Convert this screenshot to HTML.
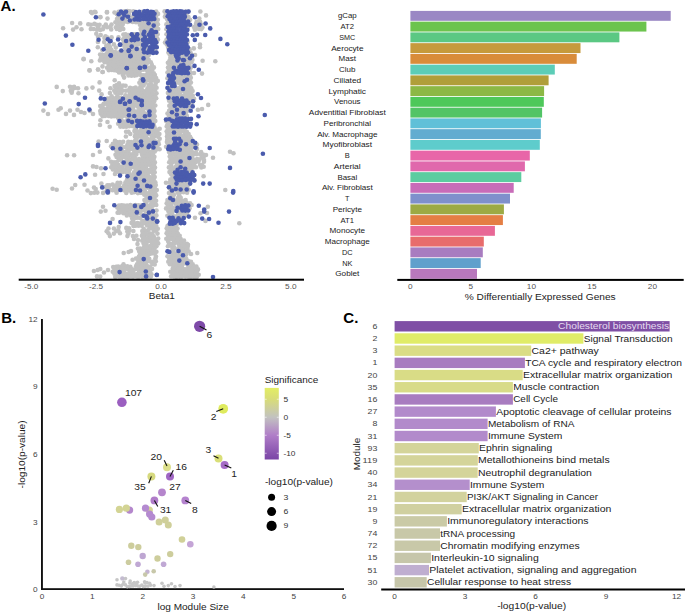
<!DOCTYPE html>
<html><head><meta charset="utf-8"><style>
html,body{margin:0;padding:0;background:#fff;}
body{width:685px;height:612px;overflow:hidden;}
svg{display:block;font-family:"Liberation Sans",sans-serif}

</style></head><body>
<svg width="685" height="612" viewBox="0 0 685 612">
<text x="0.6" y="10.7" font-size="15" font-weight="bold" fill="#000">A.</text>
<g class="s"><g fill="#c1c1c1"><circle cx="118.6" cy="11.8" r="2.3"/><circle cx="124.8" cy="11.4" r="2.3"/><circle cx="127.5" cy="11.1" r="2.3"/><circle cx="129.8" cy="11.2" r="2.3"/><circle cx="133.4" cy="11.2" r="2.3"/><circle cx="141.6" cy="12.0" r="2.3"/><circle cx="156.2" cy="11.5" r="2.3"/><circle cx="164.6" cy="11.4" r="2.3"/><circle cx="167.4" cy="11.3" r="2.3"/><circle cx="176.6" cy="11.2" r="2.3"/><circle cx="185.7" cy="11.8" r="2.3"/><circle cx="188.5" cy="11.6" r="2.3"/><circle cx="116.8" cy="14.1" r="2.3"/><circle cx="119.9" cy="13.8" r="2.3"/><circle cx="123.2" cy="13.7" r="2.3"/><circle cx="125.8" cy="13.7" r="2.3"/><circle cx="128.9" cy="14.2" r="2.3"/><circle cx="134.1" cy="13.9" r="2.3"/><circle cx="137.0" cy="14.1" r="2.3"/><circle cx="140.0" cy="14.6" r="2.3"/><circle cx="146.3" cy="14.5" r="2.3"/><circle cx="151.7" cy="13.8" r="2.3"/><circle cx="158.0" cy="13.9" r="2.3"/><circle cx="165.9" cy="14.4" r="2.3"/><circle cx="178.2" cy="14.1" r="2.3"/><circle cx="180.5" cy="14.4" r="2.3"/><circle cx="184.2" cy="14.5" r="2.3"/><circle cx="186.5" cy="14.1" r="2.3"/><circle cx="118.4" cy="16.6" r="2.3"/><circle cx="121.0" cy="16.3" r="2.3"/><circle cx="124.2" cy="17.1" r="2.3"/><circle cx="127.0" cy="16.7" r="2.3"/><circle cx="130.1" cy="17.2" r="2.3"/><circle cx="133.4" cy="16.8" r="2.3"/><circle cx="138.8" cy="17.0" r="2.3"/><circle cx="142.3" cy="16.3" r="2.3"/><circle cx="147.7" cy="16.6" r="2.3"/><circle cx="155.9" cy="16.4" r="2.3"/><circle cx="164.9" cy="16.7" r="2.3"/><circle cx="167.7" cy="16.3" r="2.3"/><circle cx="170.8" cy="16.8" r="2.3"/><circle cx="182.8" cy="17.1" r="2.3"/><circle cx="188.4" cy="17.0" r="2.3"/><circle cx="117.0" cy="19.1" r="2.3"/><circle cx="120.4" cy="18.8" r="2.3"/><circle cx="123.2" cy="19.0" r="2.3"/><circle cx="125.3" cy="19.3" r="2.3"/><circle cx="131.4" cy="18.8" r="2.3"/><circle cx="143.5" cy="18.9" r="2.3"/><circle cx="157.8" cy="19.7" r="2.3"/><circle cx="166.9" cy="18.9" r="2.3"/><circle cx="169.5" cy="19.0" r="2.3"/><circle cx="172.0" cy="19.3" r="2.3"/><circle cx="175.0" cy="19.4" r="2.3"/><circle cx="186.8" cy="19.1" r="2.3"/><circle cx="190.1" cy="19.7" r="2.3"/><circle cx="115.4" cy="22.3" r="2.3"/><circle cx="118.4" cy="22.1" r="2.3"/><circle cx="121.1" cy="22.0" r="2.3"/><circle cx="124.8" cy="21.6" r="2.3"/><circle cx="127.8" cy="21.9" r="2.3"/><circle cx="130.0" cy="21.3" r="2.3"/><circle cx="132.7" cy="21.9" r="2.3"/><circle cx="136.0" cy="22.2" r="2.3"/><circle cx="138.6" cy="22.0" r="2.3"/><circle cx="141.3" cy="21.7" r="2.3"/><circle cx="144.5" cy="21.5" r="2.3"/><circle cx="147.7" cy="21.5" r="2.3"/><circle cx="150.5" cy="21.4" r="2.3"/><circle cx="153.1" cy="21.4" r="2.3"/><circle cx="156.5" cy="22.2" r="2.3"/><circle cx="168.1" cy="21.7" r="2.3"/><circle cx="173.6" cy="21.5" r="2.3"/><circle cx="188.1" cy="21.5" r="2.3"/><circle cx="196.6" cy="21.9" r="2.3"/><circle cx="200.1" cy="21.8" r="2.3"/><circle cx="88.3" cy="24.2" r="2.3"/><circle cx="90.9" cy="24.7" r="2.3"/><circle cx="94.4" cy="23.9" r="2.3"/><circle cx="96.6" cy="24.8" r="2.3"/><circle cx="99.6" cy="24.7" r="2.3"/><circle cx="105.8" cy="24.5" r="2.3"/><circle cx="111.5" cy="24.6" r="2.3"/><circle cx="117.2" cy="24.0" r="2.3"/><circle cx="120.5" cy="24.1" r="2.3"/><circle cx="122.7" cy="24.6" r="2.3"/><circle cx="139.9" cy="24.8" r="2.3"/><circle cx="143.1" cy="24.8" r="2.3"/><circle cx="146.4" cy="24.3" r="2.3"/><circle cx="149.2" cy="24.0" r="2.3"/><circle cx="151.8" cy="23.9" r="2.3"/><circle cx="155.2" cy="24.5" r="2.3"/><circle cx="157.9" cy="24.3" r="2.3"/><circle cx="166.4" cy="24.4" r="2.3"/><circle cx="169.3" cy="24.1" r="2.3"/><circle cx="175.3" cy="24.3" r="2.3"/><circle cx="178.0" cy="24.6" r="2.3"/><circle cx="186.7" cy="24.8" r="2.3"/><circle cx="190.0" cy="24.8" r="2.3"/><circle cx="200.9" cy="24.5" r="2.3"/><circle cx="98.1" cy="27.3" r="2.3"/><circle cx="103.8" cy="26.8" r="2.3"/><circle cx="107.1" cy="27.2" r="2.3"/><circle cx="110.3" cy="26.8" r="2.3"/><circle cx="115.9" cy="27.2" r="2.3"/><circle cx="118.4" cy="26.7" r="2.3"/><circle cx="121.6" cy="27.2" r="2.3"/><circle cx="141.9" cy="27.0" r="2.3"/><circle cx="144.9" cy="27.0" r="2.3"/><circle cx="147.3" cy="27.1" r="2.3"/><circle cx="150.8" cy="26.5" r="2.3"/><circle cx="152.9" cy="27.2" r="2.3"/><circle cx="156.5" cy="26.8" r="2.3"/><circle cx="182.0" cy="27.4" r="2.3"/><circle cx="184.8" cy="27.1" r="2.3"/><circle cx="187.7" cy="27.2" r="2.3"/><circle cx="196.9" cy="27.3" r="2.3"/><circle cx="200.3" cy="27.1" r="2.3"/><circle cx="90.8" cy="29.0" r="2.3"/><circle cx="93.6" cy="29.0" r="2.3"/><circle cx="96.9" cy="29.8" r="2.3"/><circle cx="100.2" cy="29.9" r="2.3"/><circle cx="102.8" cy="29.3" r="2.3"/><circle cx="111.2" cy="29.4" r="2.3"/><circle cx="116.8" cy="29.0" r="2.3"/><circle cx="119.9" cy="29.9" r="2.3"/><circle cx="123.3" cy="29.0" r="2.3"/><circle cx="140.6" cy="29.1" r="2.3"/><circle cx="143.0" cy="29.1" r="2.3"/><circle cx="145.8" cy="29.2" r="2.3"/><circle cx="149.2" cy="29.0" r="2.3"/><circle cx="151.6" cy="29.0" r="2.3"/><circle cx="154.5" cy="29.9" r="2.3"/><circle cx="158.2" cy="29.1" r="2.3"/><circle cx="166.4" cy="29.3" r="2.3"/><circle cx="169.3" cy="29.6" r="2.3"/><circle cx="172.5" cy="29.5" r="2.3"/><circle cx="177.7" cy="29.4" r="2.3"/><circle cx="181.5" cy="29.0" r="2.3"/><circle cx="187.3" cy="29.9" r="2.3"/><circle cx="194.9" cy="29.8" r="2.3"/><circle cx="201.3" cy="29.1" r="2.3"/><circle cx="141.8" cy="31.6" r="2.3"/><circle cx="144.3" cy="31.8" r="2.3"/><circle cx="147.1" cy="32.0" r="2.3"/><circle cx="153.5" cy="32.1" r="2.3"/><circle cx="156.0" cy="32.0" r="2.3"/><circle cx="168.4" cy="31.8" r="2.3"/><circle cx="123.4" cy="34.5" r="2.3"/><circle cx="125.6" cy="34.2" r="2.3"/><circle cx="128.4" cy="35.0" r="2.3"/><circle cx="134.1" cy="34.2" r="2.3"/><circle cx="137.2" cy="34.2" r="2.3"/><circle cx="140.5" cy="34.4" r="2.3"/><circle cx="143.5" cy="34.1" r="2.3"/><circle cx="146.1" cy="34.9" r="2.3"/><circle cx="148.9" cy="34.8" r="2.3"/><circle cx="152.4" cy="34.6" r="2.3"/><circle cx="155.1" cy="34.3" r="2.3"/><circle cx="157.6" cy="34.3" r="2.3"/><circle cx="166.5" cy="34.3" r="2.3"/><circle cx="174.7" cy="34.6" r="2.3"/><circle cx="98.0" cy="36.8" r="2.3"/><circle cx="107.4" cy="37.5" r="2.3"/><circle cx="118.5" cy="37.4" r="2.3"/><circle cx="124.5" cy="37.4" r="2.3"/><circle cx="127.7" cy="37.5" r="2.3"/><circle cx="130.2" cy="36.8" r="2.3"/><circle cx="136.5" cy="36.7" r="2.3"/><circle cx="139.1" cy="36.6" r="2.3"/><circle cx="142.1" cy="37.0" r="2.3"/><circle cx="147.8" cy="37.4" r="2.3"/><circle cx="150.3" cy="37.0" r="2.3"/><circle cx="156.7" cy="37.6" r="2.3"/><circle cx="176.6" cy="37.2" r="2.3"/><circle cx="179.9" cy="37.1" r="2.3"/><circle cx="123.0" cy="39.5" r="2.3"/><circle cx="125.4" cy="39.5" r="2.3"/><circle cx="129.0" cy="39.7" r="2.3"/><circle cx="131.5" cy="40.1" r="2.3"/><circle cx="137.9" cy="39.2" r="2.3"/><circle cx="140.1" cy="39.2" r="2.3"/><circle cx="143.0" cy="39.9" r="2.3"/><circle cx="157.9" cy="39.6" r="2.3"/><circle cx="166.6" cy="39.5" r="2.3"/><circle cx="97.9" cy="42.0" r="2.3"/><circle cx="104.2" cy="42.1" r="2.3"/><circle cx="123.9" cy="42.3" r="2.3"/><circle cx="127.0" cy="42.3" r="2.3"/><circle cx="129.9" cy="41.9" r="2.3"/><circle cx="133.5" cy="42.5" r="2.3"/><circle cx="135.5" cy="42.4" r="2.3"/><circle cx="139.1" cy="42.2" r="2.3"/><circle cx="142.3" cy="41.7" r="2.3"/><circle cx="145.1" cy="42.2" r="2.3"/><circle cx="156.3" cy="42.4" r="2.3"/><circle cx="165.0" cy="42.5" r="2.3"/><circle cx="174.0" cy="41.8" r="2.3"/><circle cx="176.4" cy="42.5" r="2.3"/><circle cx="187.7" cy="41.9" r="2.3"/><circle cx="108.6" cy="44.5" r="2.3"/><circle cx="113.9" cy="44.4" r="2.3"/><circle cx="123.4" cy="44.9" r="2.3"/><circle cx="125.4" cy="44.9" r="2.3"/><circle cx="129.1" cy="44.5" r="2.3"/><circle cx="131.7" cy="44.6" r="2.3"/><circle cx="134.2" cy="45.2" r="2.3"/><circle cx="137.8" cy="44.4" r="2.3"/><circle cx="140.9" cy="44.6" r="2.3"/><circle cx="143.1" cy="44.9" r="2.3"/><circle cx="146.1" cy="45.0" r="2.3"/><circle cx="166.8" cy="44.5" r="2.3"/><circle cx="172.4" cy="44.3" r="2.3"/><circle cx="175.4" cy="44.4" r="2.3"/><circle cx="97.8" cy="47.3" r="2.3"/><circle cx="110.0" cy="47.1" r="2.3"/><circle cx="115.9" cy="47.6" r="2.3"/><circle cx="124.9" cy="47.2" r="2.3"/><circle cx="127.7" cy="47.4" r="2.3"/><circle cx="133.1" cy="47.8" r="2.3"/><circle cx="136.4" cy="47.0" r="2.3"/><circle cx="141.8" cy="47.6" r="2.3"/><circle cx="147.5" cy="47.7" r="2.3"/><circle cx="156.7" cy="47.3" r="2.3"/><circle cx="168.2" cy="47.5" r="2.3"/><circle cx="170.6" cy="46.9" r="2.3"/><circle cx="182.3" cy="47.8" r="2.3"/><circle cx="102.3" cy="50.1" r="2.3"/><circle cx="107.9" cy="50.1" r="2.3"/><circle cx="111.4" cy="49.8" r="2.3"/><circle cx="125.7" cy="50.3" r="2.3"/><circle cx="128.7" cy="49.5" r="2.3"/><circle cx="131.9" cy="50.1" r="2.3"/><circle cx="134.4" cy="49.5" r="2.3"/><circle cx="137.2" cy="49.5" r="2.3"/><circle cx="140.4" cy="49.8" r="2.3"/><circle cx="146.7" cy="50.1" r="2.3"/><circle cx="149.3" cy="50.1" r="2.3"/><circle cx="154.5" cy="50.0" r="2.3"/><circle cx="172.6" cy="49.8" r="2.3"/><circle cx="175.2" cy="49.9" r="2.3"/><circle cx="181.2" cy="49.7" r="2.3"/><circle cx="183.3" cy="49.6" r="2.3"/><circle cx="189.7" cy="49.4" r="2.3"/><circle cx="107.2" cy="52.8" r="2.3"/><circle cx="110.3" cy="52.9" r="2.3"/><circle cx="112.6" cy="52.1" r="2.3"/><circle cx="115.2" cy="52.1" r="2.3"/><circle cx="119.1" cy="52.2" r="2.3"/><circle cx="121.8" cy="52.8" r="2.3"/><circle cx="124.4" cy="52.0" r="2.3"/><circle cx="127.1" cy="52.5" r="2.3"/><circle cx="130.2" cy="52.9" r="2.3"/><circle cx="133.1" cy="52.5" r="2.3"/><circle cx="136.5" cy="52.3" r="2.3"/><circle cx="139.1" cy="52.9" r="2.3"/><circle cx="141.5" cy="52.2" r="2.3"/><circle cx="144.2" cy="52.2" r="2.3"/><circle cx="150.2" cy="52.2" r="2.3"/><circle cx="156.4" cy="52.6" r="2.3"/><circle cx="168.4" cy="52.6" r="2.3"/><circle cx="176.4" cy="52.7" r="2.3"/><circle cx="179.9" cy="52.7" r="2.3"/><circle cx="188.1" cy="52.6" r="2.3"/><circle cx="190.6" cy="52.8" r="2.3"/><circle cx="100.1" cy="54.5" r="2.3"/><circle cx="102.4" cy="54.9" r="2.3"/><circle cx="105.8" cy="54.6" r="2.3"/><circle cx="108.0" cy="55.4" r="2.3"/><circle cx="111.0" cy="55.0" r="2.3"/><circle cx="114.7" cy="54.5" r="2.3"/><circle cx="116.8" cy="55.0" r="2.3"/><circle cx="119.9" cy="55.3" r="2.3"/><circle cx="123.3" cy="55.4" r="2.3"/><circle cx="126.3" cy="54.9" r="2.3"/><circle cx="129.2" cy="54.6" r="2.3"/><circle cx="135.0" cy="54.9" r="2.3"/><circle cx="137.8" cy="55.3" r="2.3"/><circle cx="140.4" cy="54.6" r="2.3"/><circle cx="143.4" cy="55.0" r="2.3"/><circle cx="146.6" cy="55.4" r="2.3"/><circle cx="148.6" cy="55.3" r="2.3"/><circle cx="169.7" cy="54.5" r="2.3"/><circle cx="172.4" cy="55.2" r="2.3"/><circle cx="175.7" cy="55.2" r="2.3"/><circle cx="180.7" cy="55.2" r="2.3"/><circle cx="184.1" cy="54.6" r="2.3"/><circle cx="189.2" cy="55.0" r="2.3"/><circle cx="192.4" cy="55.2" r="2.3"/><circle cx="101.1" cy="57.5" r="2.3"/><circle cx="104.3" cy="57.2" r="2.3"/><circle cx="107.0" cy="57.7" r="2.3"/><circle cx="109.8" cy="57.4" r="2.3"/><circle cx="113.3" cy="57.6" r="2.3"/><circle cx="115.7" cy="57.6" r="2.3"/><circle cx="118.1" cy="58.0" r="2.3"/><circle cx="121.1" cy="57.5" r="2.3"/><circle cx="124.2" cy="57.1" r="2.3"/><circle cx="127.6" cy="57.4" r="2.3"/><circle cx="132.6" cy="57.3" r="2.3"/><circle cx="135.6" cy="57.1" r="2.3"/><circle cx="138.5" cy="57.5" r="2.3"/><circle cx="141.4" cy="57.2" r="2.3"/><circle cx="144.6" cy="57.3" r="2.3"/><circle cx="147.3" cy="58.0" r="2.3"/><circle cx="170.4" cy="57.8" r="2.3"/><circle cx="173.4" cy="57.5" r="2.3"/><circle cx="179.2" cy="57.4" r="2.3"/><circle cx="182.5" cy="57.0" r="2.3"/><circle cx="185.7" cy="58.0" r="2.3"/><circle cx="188.6" cy="57.3" r="2.3"/><circle cx="190.9" cy="57.4" r="2.3"/><circle cx="99.9" cy="60.4" r="2.3"/><circle cx="102.8" cy="59.8" r="2.3"/><circle cx="105.5" cy="60.1" r="2.3"/><circle cx="108.0" cy="59.6" r="2.3"/><circle cx="111.6" cy="60.3" r="2.3"/><circle cx="114.0" cy="60.1" r="2.3"/><circle cx="117.3" cy="60.5" r="2.3"/><circle cx="120.1" cy="60.3" r="2.3"/><circle cx="123.2" cy="60.3" r="2.3"/><circle cx="126.2" cy="60.5" r="2.3"/><circle cx="129.2" cy="60.0" r="2.3"/><circle cx="131.2" cy="60.3" r="2.3"/><circle cx="134.2" cy="60.0" r="2.3"/><circle cx="138.0" cy="59.9" r="2.3"/><circle cx="140.1" cy="59.7" r="2.3"/><circle cx="143.2" cy="60.2" r="2.3"/><circle cx="145.8" cy="59.8" r="2.3"/><circle cx="148.7" cy="59.9" r="2.3"/><circle cx="169.6" cy="60.5" r="2.3"/><circle cx="172.1" cy="60.0" r="2.3"/><circle cx="175.0" cy="59.7" r="2.3"/><circle cx="181.4" cy="60.0" r="2.3"/><circle cx="183.9" cy="60.2" r="2.3"/><circle cx="186.6" cy="60.4" r="2.3"/><circle cx="189.8" cy="59.9" r="2.3"/><circle cx="192.4" cy="59.7" r="2.3"/><circle cx="104.6" cy="62.2" r="2.3"/><circle cx="107.3" cy="62.2" r="2.3"/><circle cx="110.0" cy="63.0" r="2.3"/><circle cx="112.7" cy="63.0" r="2.3"/><circle cx="116.0" cy="62.2" r="2.3"/><circle cx="118.2" cy="63.0" r="2.3"/><circle cx="121.7" cy="62.4" r="2.3"/><circle cx="124.6" cy="62.2" r="2.3"/><circle cx="127.5" cy="62.3" r="2.3"/><circle cx="130.0" cy="62.5" r="2.3"/><circle cx="133.6" cy="63.1" r="2.3"/><circle cx="136.1" cy="62.9" r="2.3"/><circle cx="138.9" cy="63.0" r="2.3"/><circle cx="142.3" cy="62.6" r="2.3"/><circle cx="145.0" cy="62.2" r="2.3"/><circle cx="147.1" cy="63.1" r="2.3"/><circle cx="150.8" cy="62.2" r="2.3"/><circle cx="167.9" cy="62.8" r="2.3"/><circle cx="170.6" cy="63.0" r="2.3"/><circle cx="174.0" cy="62.2" r="2.3"/><circle cx="176.4" cy="62.3" r="2.3"/><circle cx="179.8" cy="62.4" r="2.3"/><circle cx="182.8" cy="62.7" r="2.3"/><circle cx="185.4" cy="62.6" r="2.3"/><circle cx="187.8" cy="63.0" r="2.3"/><circle cx="191.4" cy="62.3" r="2.3"/><circle cx="108.6" cy="64.8" r="2.3"/><circle cx="110.9" cy="65.0" r="2.3"/><circle cx="114.4" cy="65.1" r="2.3"/><circle cx="117.2" cy="65.6" r="2.3"/><circle cx="119.7" cy="65.0" r="2.3"/><circle cx="123.4" cy="65.4" r="2.3"/><circle cx="125.5" cy="64.7" r="2.3"/><circle cx="129.1" cy="65.3" r="2.3"/><circle cx="131.8" cy="64.7" r="2.3"/><circle cx="134.4" cy="64.8" r="2.3"/><circle cx="137.7" cy="65.2" r="2.3"/><circle cx="140.5" cy="65.1" r="2.3"/><circle cx="142.8" cy="65.6" r="2.3"/><circle cx="145.8" cy="65.0" r="2.3"/><circle cx="151.8" cy="64.9" r="2.3"/><circle cx="169.4" cy="65.1" r="2.3"/><circle cx="172.4" cy="65.1" r="2.3"/><circle cx="175.6" cy="65.5" r="2.3"/><circle cx="178.0" cy="64.8" r="2.3"/><circle cx="186.6" cy="65.3" r="2.3"/><circle cx="189.4" cy="65.6" r="2.3"/><circle cx="107.1" cy="67.7" r="2.3"/><circle cx="109.6" cy="67.5" r="2.3"/><circle cx="112.6" cy="68.1" r="2.3"/><circle cx="116.2" cy="67.4" r="2.3"/><circle cx="118.3" cy="67.8" r="2.3"/><circle cx="121.0" cy="68.0" r="2.3"/><circle cx="124.1" cy="68.0" r="2.3"/><circle cx="127.8" cy="67.3" r="2.3"/><circle cx="129.9" cy="67.8" r="2.3"/><circle cx="133.5" cy="67.7" r="2.3"/><circle cx="136.3" cy="67.3" r="2.3"/><circle cx="141.4" cy="67.7" r="2.3"/><circle cx="144.2" cy="67.3" r="2.3"/><circle cx="147.5" cy="67.6" r="2.3"/><circle cx="150.3" cy="67.9" r="2.3"/><circle cx="153.9" cy="67.4" r="2.3"/><circle cx="168.0" cy="67.5" r="2.3"/><circle cx="171.3" cy="67.6" r="2.3"/><circle cx="176.4" cy="67.6" r="2.3"/><circle cx="188.4" cy="67.9" r="2.3"/><circle cx="190.7" cy="67.8" r="2.3"/><circle cx="108.8" cy="70.2" r="2.3"/><circle cx="111.8" cy="69.9" r="2.3"/><circle cx="114.2" cy="70.3" r="2.3"/><circle cx="116.8" cy="70.6" r="2.3"/><circle cx="119.7" cy="69.9" r="2.3"/><circle cx="122.6" cy="70.2" r="2.3"/><circle cx="125.8" cy="70.3" r="2.3"/><circle cx="128.2" cy="70.7" r="2.3"/><circle cx="131.1" cy="70.5" r="2.3"/><circle cx="134.6" cy="70.0" r="2.3"/><circle cx="137.2" cy="70.5" r="2.3"/><circle cx="140.4" cy="70.4" r="2.3"/><circle cx="143.2" cy="69.8" r="2.3"/><circle cx="146.4" cy="69.9" r="2.3"/><circle cx="149.3" cy="69.9" r="2.3"/><circle cx="152.4" cy="69.8" r="2.3"/><circle cx="168.9" cy="70.0" r="2.3"/><circle cx="172.1" cy="69.9" r="2.3"/><circle cx="178.0" cy="70.7" r="2.3"/><circle cx="189.4" cy="70.3" r="2.3"/><circle cx="119.0" cy="72.5" r="2.3"/><circle cx="121.6" cy="72.5" r="2.3"/><circle cx="124.6" cy="72.4" r="2.3"/><circle cx="126.9" cy="72.8" r="2.3"/><circle cx="130.4" cy="72.3" r="2.3"/><circle cx="133.6" cy="72.7" r="2.3"/><circle cx="135.9" cy="73.0" r="2.3"/><circle cx="139.1" cy="72.7" r="2.3"/><circle cx="147.6" cy="73.1" r="2.3"/><circle cx="150.8" cy="73.0" r="2.3"/><circle cx="153.8" cy="73.2" r="2.3"/><circle cx="167.5" cy="72.5" r="2.3"/><circle cx="170.5" cy="72.6" r="2.3"/><circle cx="177.0" cy="72.6" r="2.3"/><circle cx="181.9" cy="73.3" r="2.3"/><circle cx="184.9" cy="73.0" r="2.3"/><circle cx="190.7" cy="73.1" r="2.3"/><circle cx="123.1" cy="75.2" r="2.3"/><circle cx="128.5" cy="75.4" r="2.3"/><circle cx="131.5" cy="75.7" r="2.3"/><circle cx="134.6" cy="75.6" r="2.3"/><circle cx="136.9" cy="75.1" r="2.3"/><circle cx="140.8" cy="75.0" r="2.3"/><circle cx="143.1" cy="75.4" r="2.3"/><circle cx="145.7" cy="75.2" r="2.3"/><circle cx="148.6" cy="75.2" r="2.3"/><circle cx="152.0" cy="75.0" r="2.3"/><circle cx="154.9" cy="75.0" r="2.3"/><circle cx="175.4" cy="75.5" r="2.3"/><circle cx="178.1" cy="75.1" r="2.3"/><circle cx="181.0" cy="75.0" r="2.3"/><circle cx="184.3" cy="75.1" r="2.3"/><circle cx="186.9" cy="75.0" r="2.3"/><circle cx="189.9" cy="75.2" r="2.3"/><circle cx="124.1" cy="77.6" r="2.3"/><circle cx="142.0" cy="77.9" r="2.3"/><circle cx="144.3" cy="77.7" r="2.3"/><circle cx="148.0" cy="77.4" r="2.3"/><circle cx="150.9" cy="78.2" r="2.3"/><circle cx="153.2" cy="77.6" r="2.3"/><circle cx="156.1" cy="78.1" r="2.3"/><circle cx="167.4" cy="78.3" r="2.3"/><circle cx="170.8" cy="77.8" r="2.3"/><circle cx="174.0" cy="78.0" r="2.3"/><circle cx="176.9" cy="77.6" r="2.3"/><circle cx="179.0" cy="77.7" r="2.3"/><circle cx="182.7" cy="78.0" r="2.3"/><circle cx="185.6" cy="78.1" r="2.3"/><circle cx="188.2" cy="78.0" r="2.3"/><circle cx="190.8" cy="77.7" r="2.3"/><circle cx="114.7" cy="80.2" r="2.3"/><circle cx="140.6" cy="80.0" r="2.3"/><circle cx="143.2" cy="80.4" r="2.3"/><circle cx="146.2" cy="80.8" r="2.3"/><circle cx="149.5" cy="80.4" r="2.3"/><circle cx="151.7" cy="80.4" r="2.3"/><circle cx="154.9" cy="80.8" r="2.3"/><circle cx="157.8" cy="80.9" r="2.3"/><circle cx="175.3" cy="80.7" r="2.3"/><circle cx="177.9" cy="80.8" r="2.3"/><circle cx="181.5" cy="80.1" r="2.3"/><circle cx="183.4" cy="80.7" r="2.3"/><circle cx="186.9" cy="80.7" r="2.3"/><circle cx="189.7" cy="80.9" r="2.3"/><circle cx="119.0" cy="83.2" r="2.3"/><circle cx="139.4" cy="82.8" r="2.3"/><circle cx="141.4" cy="83.2" r="2.3"/><circle cx="145.1" cy="82.8" r="2.3"/><circle cx="150.7" cy="83.2" r="2.3"/><circle cx="155.8" cy="83.1" r="2.3"/><circle cx="168.1" cy="83.0" r="2.3"/><circle cx="176.1" cy="82.8" r="2.3"/><circle cx="179.6" cy="83.3" r="2.3"/><circle cx="182.2" cy="83.4" r="2.3"/><circle cx="184.9" cy="83.2" r="2.3"/><circle cx="188.1" cy="82.7" r="2.3"/><circle cx="190.9" cy="82.6" r="2.3"/><circle cx="114.6" cy="86.0" r="2.3"/><circle cx="116.8" cy="85.1" r="2.3"/><circle cx="119.6" cy="85.6" r="2.3"/><circle cx="123.1" cy="85.6" r="2.3"/><circle cx="125.6" cy="85.8" r="2.3"/><circle cx="140.7" cy="85.9" r="2.3"/><circle cx="143.6" cy="85.5" r="2.3"/><circle cx="148.6" cy="85.1" r="2.3"/><circle cx="151.8" cy="85.6" r="2.3"/><circle cx="155.2" cy="85.4" r="2.3"/><circle cx="169.6" cy="86.0" r="2.3"/><circle cx="172.1" cy="86.0" r="2.3"/><circle cx="181.4" cy="85.3" r="2.3"/><circle cx="186.5" cy="85.4" r="2.3"/><circle cx="189.4" cy="85.8" r="2.3"/><circle cx="72.4" cy="87.6" r="2.3"/><circle cx="74.6" cy="88.0" r="2.3"/><circle cx="78.0" cy="88.2" r="2.3"/><circle cx="86.4" cy="88.4" r="2.3"/><circle cx="92.5" cy="87.6" r="2.3"/><circle cx="110.4" cy="88.3" r="2.3"/><circle cx="115.9" cy="88.2" r="2.3"/><circle cx="118.3" cy="88.5" r="2.3"/><circle cx="121.0" cy="87.9" r="2.3"/><circle cx="130.1" cy="87.7" r="2.3"/><circle cx="133.4" cy="88.4" r="2.3"/><circle cx="135.6" cy="87.6" r="2.3"/><circle cx="139.3" cy="88.4" r="2.3"/><circle cx="141.5" cy="88.5" r="2.3"/><circle cx="147.5" cy="88.4" r="2.3"/><circle cx="150.6" cy="88.6" r="2.3"/><circle cx="153.9" cy="88.6" r="2.3"/><circle cx="156.6" cy="87.8" r="2.3"/><circle cx="167.9" cy="88.3" r="2.3"/><circle cx="171.1" cy="87.9" r="2.3"/><circle cx="174.0" cy="88.3" r="2.3"/><circle cx="176.4" cy="88.4" r="2.3"/><circle cx="179.6" cy="88.0" r="2.3"/><circle cx="181.9" cy="87.7" r="2.3"/><circle cx="184.9" cy="87.6" r="2.3"/><circle cx="188.5" cy="88.2" r="2.3"/><circle cx="191.3" cy="88.4" r="2.3"/><circle cx="70.8" cy="90.8" r="2.3"/><circle cx="114.2" cy="90.5" r="2.3"/><circle cx="117.1" cy="90.7" r="2.3"/><circle cx="119.6" cy="90.6" r="2.3"/><circle cx="122.6" cy="90.6" r="2.3"/><circle cx="125.9" cy="90.7" r="2.3"/><circle cx="128.3" cy="90.2" r="2.3"/><circle cx="132.2" cy="90.4" r="2.3"/><circle cx="134.4" cy="90.9" r="2.3"/><circle cx="137.8" cy="90.2" r="2.3"/><circle cx="140.0" cy="90.5" r="2.3"/><circle cx="143.1" cy="91.1" r="2.3"/><circle cx="146.2" cy="91.1" r="2.3"/><circle cx="149.2" cy="91.0" r="2.3"/><circle cx="151.4" cy="91.1" r="2.3"/><circle cx="154.9" cy="90.2" r="2.3"/><circle cx="171.8" cy="90.4" r="2.3"/><circle cx="174.7" cy="90.6" r="2.3"/><circle cx="178.3" cy="90.9" r="2.3"/><circle cx="181.4" cy="90.5" r="2.3"/><circle cx="183.8" cy="91.0" r="2.3"/><circle cx="186.5" cy="90.3" r="2.3"/><circle cx="189.2" cy="90.3" r="2.3"/><circle cx="192.6" cy="91.0" r="2.3"/><circle cx="71.7" cy="92.8" r="2.3"/><circle cx="78.5" cy="93.3" r="2.3"/><circle cx="109.9" cy="93.1" r="2.3"/><circle cx="115.4" cy="92.8" r="2.3"/><circle cx="118.1" cy="93.6" r="2.3"/><circle cx="121.3" cy="93.1" r="2.3"/><circle cx="129.8" cy="92.9" r="2.3"/><circle cx="132.6" cy="93.3" r="2.3"/><circle cx="136.5" cy="93.3" r="2.3"/><circle cx="138.9" cy="93.2" r="2.3"/><circle cx="141.8" cy="93.6" r="2.3"/><circle cx="144.2" cy="93.1" r="2.3"/><circle cx="147.7" cy="93.2" r="2.3"/><circle cx="151.0" cy="93.5" r="2.3"/><circle cx="152.9" cy="93.4" r="2.3"/><circle cx="156.5" cy="93.2" r="2.3"/><circle cx="167.9" cy="92.9" r="2.3"/><circle cx="171.3" cy="93.6" r="2.3"/><circle cx="174.0" cy="92.8" r="2.3"/><circle cx="176.9" cy="93.0" r="2.3"/><circle cx="179.9" cy="93.4" r="2.3"/><circle cx="185.4" cy="93.6" r="2.3"/><circle cx="188.3" cy="92.9" r="2.3"/><circle cx="190.7" cy="93.2" r="2.3"/><circle cx="111.7" cy="96.2" r="2.3"/><circle cx="117.3" cy="95.9" r="2.3"/><circle cx="125.4" cy="95.3" r="2.3"/><circle cx="128.3" cy="96.2" r="2.3"/><circle cx="131.5" cy="96.1" r="2.3"/><circle cx="134.7" cy="95.7" r="2.3"/><circle cx="138.0" cy="95.5" r="2.3"/><circle cx="140.3" cy="95.4" r="2.3"/><circle cx="143.3" cy="96.0" r="2.3"/><circle cx="145.7" cy="96.2" r="2.3"/><circle cx="149.5" cy="95.3" r="2.3"/><circle cx="151.6" cy="95.5" r="2.3"/><circle cx="155.1" cy="95.7" r="2.3"/><circle cx="169.6" cy="95.3" r="2.3"/><circle cx="172.1" cy="96.2" r="2.3"/><circle cx="175.1" cy="95.6" r="2.3"/><circle cx="177.8" cy="95.9" r="2.3"/><circle cx="181.2" cy="95.5" r="2.3"/><circle cx="183.9" cy="96.0" r="2.3"/><circle cx="186.7" cy="95.3" r="2.3"/><circle cx="189.3" cy="95.4" r="2.3"/><circle cx="192.7" cy="95.6" r="2.3"/><circle cx="107.4" cy="98.6" r="2.3"/><circle cx="109.8" cy="98.6" r="2.3"/><circle cx="112.8" cy="98.7" r="2.3"/><circle cx="115.2" cy="98.3" r="2.3"/><circle cx="119.0" cy="97.9" r="2.3"/><circle cx="121.2" cy="97.9" r="2.3"/><circle cx="124.6" cy="98.2" r="2.3"/><circle cx="127.4" cy="98.7" r="2.3"/><circle cx="130.2" cy="98.3" r="2.3"/><circle cx="133.3" cy="97.9" r="2.3"/><circle cx="136.5" cy="98.6" r="2.3"/><circle cx="138.7" cy="97.9" r="2.3"/><circle cx="141.8" cy="98.7" r="2.3"/><circle cx="144.4" cy="98.5" r="2.3"/><circle cx="147.6" cy="98.7" r="2.3"/><circle cx="150.3" cy="98.3" r="2.3"/><circle cx="153.3" cy="98.1" r="2.3"/><circle cx="156.2" cy="98.2" r="2.3"/><circle cx="170.9" cy="98.8" r="2.3"/><circle cx="173.2" cy="98.0" r="2.3"/><circle cx="177.0" cy="98.3" r="2.3"/><circle cx="179.2" cy="98.3" r="2.3"/><circle cx="182.2" cy="98.7" r="2.3"/><circle cx="185.0" cy="98.4" r="2.3"/><circle cx="188.2" cy="98.4" r="2.3"/><circle cx="191.2" cy="98.1" r="2.3"/><circle cx="194.1" cy="98.7" r="2.3"/><circle cx="105.6" cy="101.0" r="2.3"/><circle cx="108.4" cy="101.3" r="2.3"/><circle cx="111.3" cy="100.4" r="2.3"/><circle cx="114.6" cy="100.4" r="2.3"/><circle cx="117.5" cy="101.2" r="2.3"/><circle cx="120.5" cy="100.7" r="2.3"/><circle cx="123.4" cy="100.9" r="2.3"/><circle cx="125.4" cy="100.4" r="2.3"/><circle cx="128.3" cy="101.2" r="2.3"/><circle cx="132.2" cy="101.0" r="2.3"/><circle cx="134.8" cy="100.7" r="2.3"/><circle cx="137.0" cy="101.2" r="2.3"/><circle cx="140.4" cy="101.0" r="2.3"/><circle cx="142.8" cy="100.7" r="2.3"/><circle cx="146.2" cy="100.5" r="2.3"/><circle cx="149.0" cy="100.4" r="2.3"/><circle cx="151.9" cy="100.5" r="2.3"/><circle cx="154.4" cy="101.1" r="2.3"/><circle cx="169.1" cy="100.8" r="2.3"/><circle cx="172.4" cy="101.2" r="2.3"/><circle cx="183.8" cy="100.9" r="2.3"/><circle cx="189.2" cy="100.7" r="2.3"/><circle cx="193.1" cy="101.3" r="2.3"/><circle cx="103.7" cy="103.8" r="2.3"/><circle cx="106.8" cy="103.9" r="2.3"/><circle cx="109.5" cy="103.3" r="2.3"/><circle cx="112.4" cy="103.7" r="2.3"/><circle cx="116.0" cy="103.2" r="2.3"/><circle cx="118.2" cy="103.6" r="2.3"/><circle cx="121.8" cy="103.1" r="2.3"/><circle cx="124.1" cy="103.8" r="2.3"/><circle cx="126.9" cy="103.6" r="2.3"/><circle cx="130.2" cy="103.2" r="2.3"/><circle cx="133.3" cy="103.6" r="2.3"/><circle cx="135.5" cy="103.5" r="2.3"/><circle cx="138.4" cy="103.7" r="2.3"/><circle cx="141.6" cy="103.4" r="2.3"/><circle cx="145.2" cy="103.5" r="2.3"/><circle cx="147.9" cy="103.4" r="2.3"/><circle cx="150.6" cy="103.3" r="2.3"/><circle cx="153.3" cy="103.1" r="2.3"/><circle cx="170.9" cy="103.6" r="2.3"/><circle cx="173.3" cy="103.5" r="2.3"/><circle cx="179.1" cy="103.9" r="2.3"/><circle cx="182.0" cy="103.6" r="2.3"/><circle cx="185.3" cy="103.7" r="2.3"/><circle cx="188.5" cy="102.9" r="2.3"/><circle cx="191.0" cy="103.6" r="2.3"/><circle cx="100.2" cy="106.1" r="2.3"/><circle cx="102.7" cy="105.6" r="2.3"/><circle cx="108.3" cy="105.6" r="2.3"/><circle cx="110.9" cy="106.1" r="2.3"/><circle cx="113.9" cy="106.1" r="2.3"/><circle cx="116.6" cy="106.2" r="2.3"/><circle cx="120.0" cy="105.9" r="2.3"/><circle cx="122.8" cy="106.0" r="2.3"/><circle cx="126.4" cy="105.8" r="2.3"/><circle cx="129.1" cy="106.2" r="2.3"/><circle cx="131.6" cy="106.3" r="2.3"/><circle cx="134.2" cy="105.5" r="2.3"/><circle cx="137.4" cy="106.4" r="2.3"/><circle cx="140.2" cy="105.9" r="2.3"/><circle cx="143.5" cy="106.0" r="2.3"/><circle cx="146.6" cy="105.5" r="2.3"/><circle cx="149.0" cy="106.4" r="2.3"/><circle cx="151.7" cy="106.2" r="2.3"/><circle cx="155.3" cy="105.5" r="2.3"/><circle cx="169.3" cy="105.7" r="2.3"/><circle cx="172.0" cy="106.2" r="2.3"/><circle cx="178.0" cy="106.4" r="2.3"/><circle cx="190.0" cy="106.1" r="2.3"/><circle cx="101.7" cy="108.4" r="2.3"/><circle cx="103.8" cy="108.7" r="2.3"/><circle cx="107.4" cy="108.4" r="2.3"/><circle cx="109.9" cy="108.4" r="2.3"/><circle cx="113.0" cy="108.6" r="2.3"/><circle cx="115.4" cy="108.9" r="2.3"/><circle cx="118.4" cy="108.6" r="2.3"/><circle cx="122.0" cy="109.0" r="2.3"/><circle cx="124.1" cy="108.2" r="2.3"/><circle cx="127.1" cy="108.7" r="2.3"/><circle cx="129.7" cy="108.0" r="2.3"/><circle cx="132.9" cy="108.1" r="2.3"/><circle cx="139.4" cy="108.4" r="2.3"/><circle cx="141.4" cy="108.6" r="2.3"/><circle cx="145.1" cy="108.1" r="2.3"/><circle cx="148.0" cy="108.7" r="2.3"/><circle cx="150.0" cy="108.6" r="2.3"/><circle cx="153.7" cy="108.8" r="2.3"/><circle cx="170.7" cy="108.4" r="2.3"/><circle cx="173.9" cy="109.0" r="2.3"/><circle cx="177.0" cy="108.4" r="2.3"/><circle cx="179.8" cy="109.0" r="2.3"/><circle cx="182.6" cy="108.8" r="2.3"/><circle cx="185.8" cy="108.5" r="2.3"/><circle cx="187.7" cy="108.5" r="2.3"/><circle cx="100.2" cy="111.1" r="2.3"/><circle cx="102.8" cy="111.0" r="2.3"/><circle cx="105.9" cy="110.7" r="2.3"/><circle cx="108.2" cy="110.8" r="2.3"/><circle cx="110.9" cy="110.8" r="2.3"/><circle cx="114.7" cy="110.7" r="2.3"/><circle cx="117.0" cy="111.2" r="2.3"/><circle cx="120.2" cy="110.7" r="2.3"/><circle cx="123.0" cy="111.3" r="2.3"/><circle cx="125.4" cy="111.2" r="2.3"/><circle cx="129.2" cy="111.2" r="2.3"/><circle cx="131.6" cy="110.6" r="2.3"/><circle cx="134.4" cy="111.4" r="2.3"/><circle cx="137.7" cy="111.2" r="2.3"/><circle cx="140.4" cy="111.2" r="2.3"/><circle cx="143.1" cy="111.4" r="2.3"/><circle cx="148.9" cy="111.0" r="2.3"/><circle cx="151.6" cy="110.9" r="2.3"/><circle cx="154.5" cy="111.0" r="2.3"/><circle cx="169.1" cy="110.9" r="2.3"/><circle cx="172.7" cy="111.4" r="2.3"/><circle cx="175.0" cy="111.0" r="2.3"/><circle cx="178.0" cy="111.5" r="2.3"/><circle cx="180.8" cy="110.7" r="2.3"/><circle cx="183.6" cy="111.0" r="2.3"/><circle cx="187.0" cy="111.1" r="2.3"/><circle cx="100.7" cy="113.8" r="2.3"/><circle cx="104.3" cy="113.9" r="2.3"/><circle cx="107.1" cy="113.9" r="2.3"/><circle cx="110.4" cy="113.8" r="2.3"/><circle cx="112.4" cy="113.7" r="2.3"/><circle cx="116.2" cy="113.4" r="2.3"/><circle cx="118.6" cy="114.0" r="2.3"/><circle cx="121.9" cy="113.8" r="2.3"/><circle cx="124.9" cy="114.0" r="2.3"/><circle cx="127.4" cy="113.1" r="2.3"/><circle cx="130.4" cy="113.2" r="2.3"/><circle cx="132.9" cy="113.5" r="2.3"/><circle cx="136.4" cy="113.8" r="2.3"/><circle cx="138.9" cy="114.1" r="2.3"/><circle cx="141.9" cy="113.2" r="2.3"/><circle cx="144.2" cy="113.2" r="2.3"/><circle cx="147.3" cy="113.9" r="2.3"/><circle cx="153.6" cy="114.1" r="2.3"/><circle cx="167.5" cy="113.6" r="2.3"/><circle cx="170.8" cy="113.2" r="2.3"/><circle cx="173.4" cy="114.0" r="2.3"/><circle cx="176.7" cy="113.7" r="2.3"/><circle cx="179.6" cy="113.6" r="2.3"/><circle cx="182.1" cy="113.6" r="2.3"/><circle cx="185.4" cy="113.3" r="2.3"/><circle cx="102.6" cy="116.2" r="2.3"/><circle cx="105.0" cy="115.9" r="2.3"/><circle cx="108.7" cy="115.9" r="2.3"/><circle cx="111.3" cy="116.4" r="2.3"/><circle cx="114.1" cy="116.2" r="2.3"/><circle cx="117.1" cy="116.4" r="2.3"/><circle cx="119.6" cy="116.0" r="2.3"/><circle cx="122.7" cy="116.0" r="2.3"/><circle cx="125.7" cy="115.8" r="2.3"/><circle cx="128.3" cy="116.6" r="2.3"/><circle cx="131.7" cy="116.2" r="2.3"/><circle cx="134.7" cy="116.5" r="2.3"/><circle cx="137.0" cy="115.8" r="2.3"/><circle cx="140.5" cy="116.4" r="2.3"/><circle cx="143.1" cy="116.3" r="2.3"/><circle cx="146.6" cy="115.8" r="2.3"/><circle cx="149.3" cy="116.6" r="2.3"/><circle cx="152.3" cy="115.8" r="2.3"/><circle cx="154.7" cy="116.3" r="2.3"/><circle cx="169.1" cy="116.4" r="2.3"/><circle cx="172.2" cy="115.7" r="2.3"/><circle cx="175.4" cy="116.1" r="2.3"/><circle cx="180.4" cy="116.1" r="2.3"/><circle cx="183.4" cy="116.5" r="2.3"/><circle cx="186.8" cy="115.9" r="2.3"/><circle cx="118.4" cy="118.2" r="2.3"/><circle cx="121.1" cy="118.8" r="2.3"/><circle cx="127.6" cy="119.1" r="2.3"/><circle cx="130.4" cy="118.6" r="2.3"/><circle cx="135.9" cy="118.7" r="2.3"/><circle cx="138.5" cy="119.1" r="2.3"/><circle cx="142.2" cy="118.3" r="2.3"/><circle cx="144.8" cy="118.4" r="2.3"/><circle cx="147.3" cy="118.9" r="2.3"/><circle cx="150.7" cy="118.3" r="2.3"/><circle cx="153.5" cy="118.3" r="2.3"/><circle cx="168.1" cy="118.9" r="2.3"/><circle cx="170.8" cy="118.7" r="2.3"/><circle cx="173.6" cy="118.3" r="2.3"/><circle cx="188.7" cy="119.1" r="2.3"/><circle cx="120.5" cy="121.0" r="2.3"/><circle cx="122.5" cy="121.4" r="2.3"/><circle cx="125.7" cy="121.5" r="2.3"/><circle cx="128.9" cy="121.2" r="2.3"/><circle cx="132.0" cy="120.9" r="2.3"/><circle cx="134.8" cy="121.2" r="2.3"/><circle cx="142.9" cy="121.6" r="2.3"/><circle cx="149.4" cy="121.2" r="2.3"/><circle cx="152.4" cy="121.0" r="2.3"/><circle cx="155.3" cy="120.9" r="2.3"/><circle cx="166.1" cy="121.0" r="2.3"/><circle cx="169.0" cy="121.5" r="2.3"/><circle cx="172.2" cy="120.9" r="2.3"/><circle cx="181.0" cy="121.1" r="2.3"/><circle cx="118.2" cy="123.8" r="2.3"/><circle cx="121.9" cy="123.6" r="2.3"/><circle cx="124.9" cy="124.3" r="2.3"/><circle cx="127.1" cy="124.0" r="2.3"/><circle cx="130.4" cy="124.0" r="2.3"/><circle cx="133.3" cy="123.7" r="2.3"/><circle cx="135.6" cy="123.9" r="2.3"/><circle cx="144.7" cy="123.8" r="2.3"/><circle cx="153.7" cy="124.0" r="2.3"/><circle cx="167.6" cy="124.2" r="2.3"/><circle cx="170.7" cy="123.7" r="2.3"/><circle cx="174.0" cy="124.3" r="2.3"/><circle cx="176.1" cy="123.6" r="2.3"/><circle cx="179.2" cy="124.2" r="2.3"/><circle cx="120.3" cy="126.6" r="2.3"/><circle cx="123.2" cy="126.7" r="2.3"/><circle cx="126.2" cy="126.8" r="2.3"/><circle cx="129.2" cy="126.3" r="2.3"/><circle cx="131.9" cy="125.9" r="2.3"/><circle cx="134.1" cy="126.6" r="2.3"/><circle cx="137.3" cy="126.1" r="2.3"/><circle cx="152.1" cy="126.8" r="2.3"/><circle cx="154.3" cy="126.6" r="2.3"/><circle cx="166.7" cy="126.5" r="2.3"/><circle cx="169.1" cy="126.5" r="2.3"/><circle cx="178.0" cy="126.7" r="2.3"/><circle cx="181.3" cy="126.4" r="2.3"/><circle cx="136.0" cy="128.9" r="2.3"/><circle cx="141.3" cy="129.1" r="2.3"/><circle cx="144.8" cy="128.7" r="2.3"/><circle cx="147.6" cy="128.7" r="2.3"/><circle cx="150.0" cy="128.5" r="2.3"/><circle cx="152.9" cy="128.8" r="2.3"/><circle cx="155.8" cy="129.3" r="2.3"/><circle cx="159.7" cy="128.8" r="2.3"/><circle cx="168.2" cy="129.1" r="2.3"/><circle cx="170.4" cy="128.8" r="2.3"/><circle cx="173.2" cy="129.2" r="2.3"/><circle cx="176.7" cy="128.7" r="2.3"/><circle cx="180.0" cy="129.0" r="2.3"/><circle cx="182.5" cy="129.0" r="2.3"/><circle cx="184.8" cy="128.8" r="2.3"/><circle cx="126.1" cy="131.8" r="2.3"/><circle cx="128.5" cy="131.7" r="2.3"/><circle cx="134.4" cy="131.1" r="2.3"/><circle cx="137.0" cy="131.4" r="2.3"/><circle cx="140.2" cy="131.6" r="2.3"/><circle cx="143.4" cy="131.0" r="2.3"/><circle cx="146.4" cy="131.9" r="2.3"/><circle cx="149.2" cy="131.8" r="2.3"/><circle cx="152.1" cy="131.0" r="2.3"/><circle cx="155.1" cy="131.8" r="2.3"/><circle cx="157.4" cy="131.4" r="2.3"/><circle cx="166.7" cy="131.2" r="2.3"/><circle cx="169.3" cy="131.1" r="2.3"/><circle cx="171.9" cy="131.8" r="2.3"/><circle cx="175.1" cy="131.3" r="2.3"/><circle cx="177.7" cy="131.9" r="2.3"/><circle cx="180.9" cy="131.8" r="2.3"/><circle cx="184.2" cy="131.7" r="2.3"/><circle cx="186.8" cy="131.7" r="2.3"/><circle cx="130.3" cy="134.0" r="2.3"/><circle cx="135.6" cy="133.9" r="2.3"/><circle cx="139.0" cy="134.3" r="2.3"/><circle cx="142.2" cy="134.3" r="2.3"/><circle cx="144.8" cy="133.7" r="2.3"/><circle cx="147.3" cy="133.7" r="2.3"/><circle cx="150.0" cy="134.3" r="2.3"/><circle cx="153.8" cy="133.6" r="2.3"/><circle cx="156.7" cy="133.9" r="2.3"/><circle cx="159.4" cy="134.0" r="2.3"/><circle cx="167.4" cy="133.7" r="2.3"/><circle cx="170.5" cy="134.0" r="2.3"/><circle cx="173.4" cy="133.6" r="2.3"/><circle cx="176.9" cy="133.6" r="2.3"/><circle cx="179.8" cy="134.1" r="2.3"/><circle cx="185.1" cy="134.0" r="2.3"/><circle cx="188.6" cy="134.1" r="2.3"/><circle cx="125.9" cy="136.5" r="2.3"/><circle cx="134.9" cy="136.4" r="2.3"/><circle cx="137.3" cy="136.9" r="2.3"/><circle cx="139.9" cy="136.5" r="2.3"/><circle cx="142.7" cy="136.1" r="2.3"/><circle cx="146.1" cy="136.1" r="2.3"/><circle cx="152.0" cy="137.0" r="2.3"/><circle cx="154.7" cy="136.1" r="2.3"/><circle cx="158.1" cy="136.7" r="2.3"/><circle cx="167.0" cy="136.6" r="2.3"/><circle cx="169.0" cy="136.8" r="2.3"/><circle cx="171.9" cy="136.3" r="2.3"/><circle cx="174.8" cy="136.3" r="2.3"/><circle cx="177.8" cy="136.7" r="2.3"/><circle cx="180.7" cy="136.5" r="2.3"/><circle cx="183.4" cy="136.1" r="2.3"/><circle cx="186.9" cy="136.1" r="2.3"/><circle cx="190.1" cy="136.7" r="2.3"/><circle cx="135.8" cy="139.5" r="2.3"/><circle cx="142.1" cy="139.0" r="2.3"/><circle cx="144.2" cy="138.6" r="2.3"/><circle cx="147.4" cy="138.8" r="2.3"/><circle cx="150.4" cy="139.5" r="2.3"/><circle cx="153.3" cy="138.9" r="2.3"/><circle cx="159.7" cy="138.7" r="2.3"/><circle cx="167.4" cy="139.3" r="2.3"/><circle cx="171.3" cy="138.7" r="2.3"/><circle cx="181.9" cy="139.0" r="2.3"/><circle cx="185.4" cy="138.8" r="2.3"/><circle cx="188.7" cy="139.2" r="2.3"/><circle cx="191.2" cy="138.8" r="2.3"/><circle cx="116.9" cy="142.1" r="2.3"/><circle cx="119.9" cy="142.1" r="2.3"/><circle cx="123.2" cy="141.8" r="2.3"/><circle cx="128.3" cy="141.8" r="2.3"/><circle cx="131.2" cy="142.1" r="2.3"/><circle cx="134.7" cy="141.4" r="2.3"/><circle cx="137.3" cy="141.2" r="2.3"/><circle cx="140.3" cy="141.5" r="2.3"/><circle cx="142.9" cy="141.4" r="2.3"/><circle cx="146.4" cy="141.5" r="2.3"/><circle cx="148.6" cy="141.5" r="2.3"/><circle cx="152.3" cy="141.4" r="2.3"/><circle cx="155.1" cy="141.4" r="2.3"/><circle cx="158.3" cy="142.1" r="2.3"/><circle cx="166.9" cy="141.9" r="2.3"/><circle cx="169.7" cy="142.1" r="2.3"/><circle cx="172.4" cy="141.3" r="2.3"/><circle cx="177.6" cy="141.6" r="2.3"/><circle cx="183.5" cy="141.6" r="2.3"/><circle cx="186.6" cy="141.3" r="2.3"/><circle cx="189.7" cy="141.3" r="2.3"/><circle cx="192.6" cy="142.1" r="2.3"/><circle cx="112.9" cy="143.8" r="2.3"/><circle cx="116.1" cy="144.3" r="2.3"/><circle cx="118.6" cy="144.1" r="2.3"/><circle cx="121.2" cy="143.9" r="2.3"/><circle cx="127.5" cy="144.5" r="2.3"/><circle cx="130.6" cy="144.1" r="2.3"/><circle cx="132.8" cy="144.0" r="2.3"/><circle cx="135.7" cy="144.0" r="2.3"/><circle cx="139.2" cy="144.7" r="2.3"/><circle cx="141.6" cy="144.2" r="2.3"/><circle cx="144.8" cy="144.6" r="2.3"/><circle cx="148.1" cy="144.2" r="2.3"/><circle cx="150.0" cy="144.0" r="2.3"/><circle cx="152.9" cy="144.1" r="2.3"/><circle cx="156.0" cy="144.6" r="2.3"/><circle cx="158.8" cy="144.3" r="2.3"/><circle cx="168.0" cy="143.8" r="2.3"/><circle cx="170.9" cy="143.9" r="2.3"/><circle cx="182.3" cy="144.1" r="2.3"/><circle cx="185.1" cy="144.3" r="2.3"/><circle cx="187.9" cy="144.3" r="2.3"/><circle cx="191.3" cy="144.4" r="2.3"/><circle cx="193.5" cy="144.1" r="2.3"/><circle cx="197.0" cy="144.6" r="2.3"/><circle cx="111.1" cy="146.3" r="2.3"/><circle cx="114.2" cy="147.0" r="2.3"/><circle cx="117.6" cy="147.0" r="2.3"/><circle cx="119.6" cy="146.7" r="2.3"/><circle cx="123.4" cy="147.2" r="2.3"/><circle cx="126.2" cy="147.0" r="2.3"/><circle cx="128.7" cy="147.2" r="2.3"/><circle cx="131.7" cy="147.2" r="2.3"/><circle cx="134.8" cy="146.8" r="2.3"/><circle cx="137.0" cy="146.8" r="2.3"/><circle cx="142.9" cy="146.8" r="2.3"/><circle cx="146.0" cy="146.4" r="2.3"/><circle cx="151.9" cy="146.7" r="2.3"/><circle cx="157.3" cy="146.9" r="2.3"/><circle cx="166.1" cy="146.7" r="2.3"/><circle cx="177.5" cy="147.1" r="2.3"/><circle cx="181.0" cy="147.0" r="2.3"/><circle cx="184.3" cy="146.4" r="2.3"/><circle cx="186.7" cy="146.4" r="2.3"/><circle cx="190.1" cy="146.3" r="2.3"/><circle cx="192.6" cy="147.1" r="2.3"/><circle cx="195.2" cy="147.1" r="2.3"/><circle cx="115.8" cy="149.5" r="2.3"/><circle cx="118.9" cy="149.2" r="2.3"/><circle cx="121.6" cy="149.1" r="2.3"/><circle cx="127.6" cy="149.6" r="2.3"/><circle cx="129.9" cy="149.1" r="2.3"/><circle cx="132.9" cy="149.3" r="2.3"/><circle cx="135.5" cy="148.9" r="2.3"/><circle cx="139.2" cy="149.6" r="2.3"/><circle cx="141.4" cy="149.8" r="2.3"/><circle cx="145.0" cy="149.4" r="2.3"/><circle cx="147.9" cy="148.9" r="2.3"/><circle cx="153.2" cy="149.3" r="2.3"/><circle cx="156.4" cy="149.4" r="2.3"/><circle cx="159.6" cy="149.3" r="2.3"/><circle cx="173.3" cy="148.9" r="2.3"/><circle cx="176.9" cy="148.9" r="2.3"/><circle cx="179.8" cy="149.7" r="2.3"/><circle cx="182.3" cy="149.1" r="2.3"/><circle cx="185.6" cy="148.9" r="2.3"/><circle cx="187.8" cy="149.5" r="2.3"/><circle cx="190.8" cy="149.8" r="2.3"/><circle cx="197.0" cy="148.9" r="2.3"/><circle cx="116.7" cy="151.7" r="2.3"/><circle cx="120.3" cy="152.3" r="2.3"/><circle cx="122.6" cy="151.9" r="2.3"/><circle cx="125.9" cy="151.9" r="2.3"/><circle cx="128.5" cy="152.0" r="2.3"/><circle cx="134.3" cy="151.9" r="2.3"/><circle cx="137.6" cy="151.4" r="2.3"/><circle cx="140.7" cy="151.6" r="2.3"/><circle cx="143.8" cy="151.8" r="2.3"/><circle cx="146.3" cy="152.2" r="2.3"/><circle cx="149.5" cy="152.1" r="2.3"/><circle cx="152.1" cy="151.7" r="2.3"/><circle cx="154.8" cy="151.4" r="2.3"/><circle cx="169.0" cy="151.9" r="2.3"/><circle cx="172.4" cy="151.5" r="2.3"/><circle cx="175.5" cy="151.4" r="2.3"/><circle cx="177.6" cy="152.2" r="2.3"/><circle cx="180.7" cy="152.3" r="2.3"/><circle cx="183.8" cy="152.1" r="2.3"/><circle cx="186.3" cy="151.4" r="2.3"/><circle cx="190.1" cy="152.2" r="2.3"/><circle cx="192.1" cy="152.0" r="2.3"/><circle cx="195.9" cy="152.3" r="2.3"/><circle cx="201.1" cy="152.1" r="2.3"/><circle cx="115.5" cy="154.7" r="2.3"/><circle cx="118.5" cy="154.1" r="2.3"/><circle cx="121.9" cy="154.0" r="2.3"/><circle cx="124.5" cy="154.6" r="2.3"/><circle cx="127.7" cy="154.5" r="2.3"/><circle cx="130.7" cy="154.6" r="2.3"/><circle cx="132.9" cy="154.2" r="2.3"/><circle cx="136.3" cy="154.5" r="2.3"/><circle cx="142.0" cy="154.6" r="2.3"/><circle cx="145.2" cy="154.4" r="2.3"/><circle cx="147.5" cy="154.4" r="2.3"/><circle cx="150.4" cy="154.3" r="2.3"/><circle cx="153.0" cy="154.1" r="2.3"/><circle cx="170.3" cy="154.1" r="2.3"/><circle cx="173.4" cy="154.2" r="2.3"/><circle cx="176.8" cy="154.5" r="2.3"/><circle cx="179.3" cy="153.9" r="2.3"/><circle cx="182.3" cy="154.2" r="2.3"/><circle cx="185.3" cy="154.0" r="2.3"/><circle cx="187.8" cy="154.1" r="2.3"/><circle cx="190.9" cy="154.0" r="2.3"/><circle cx="193.5" cy="154.3" r="2.3"/><circle cx="196.4" cy="154.2" r="2.3"/><circle cx="200.0" cy="154.2" r="2.3"/><circle cx="203.1" cy="154.5" r="2.3"/><circle cx="116.6" cy="157.0" r="2.3"/><circle cx="120.1" cy="157.2" r="2.3"/><circle cx="122.9" cy="157.0" r="2.3"/><circle cx="125.5" cy="157.1" r="2.3"/><circle cx="128.4" cy="156.7" r="2.3"/><circle cx="132.1" cy="156.6" r="2.3"/><circle cx="134.5" cy="156.5" r="2.3"/><circle cx="142.9" cy="156.6" r="2.3"/><circle cx="145.9" cy="156.8" r="2.3"/><circle cx="149.5" cy="156.9" r="2.3"/><circle cx="151.8" cy="157.3" r="2.3"/><circle cx="154.4" cy="156.7" r="2.3"/><circle cx="169.7" cy="156.6" r="2.3"/><circle cx="171.8" cy="157.1" r="2.3"/><circle cx="175.5" cy="157.3" r="2.3"/><circle cx="178.3" cy="157.4" r="2.3"/><circle cx="181.1" cy="157.1" r="2.3"/><circle cx="184.1" cy="156.6" r="2.3"/><circle cx="186.3" cy="156.5" r="2.3"/><circle cx="192.3" cy="157.0" r="2.3"/><circle cx="201.7" cy="157.4" r="2.3"/><circle cx="203.8" cy="156.5" r="2.3"/><circle cx="118.6" cy="160.0" r="2.3"/><circle cx="121.0" cy="159.5" r="2.3"/><circle cx="126.9" cy="159.4" r="2.3"/><circle cx="129.7" cy="159.7" r="2.3"/><circle cx="132.8" cy="159.4" r="2.3"/><circle cx="135.7" cy="159.0" r="2.3"/><circle cx="139.1" cy="159.1" r="2.3"/><circle cx="142.2" cy="159.9" r="2.3"/><circle cx="144.8" cy="159.7" r="2.3"/><circle cx="147.8" cy="159.4" r="2.3"/><circle cx="150.3" cy="159.1" r="2.3"/><circle cx="153.7" cy="159.0" r="2.3"/><circle cx="170.5" cy="159.7" r="2.3"/><circle cx="174.1" cy="159.3" r="2.3"/><circle cx="176.6" cy="159.1" r="2.3"/><circle cx="179.5" cy="159.6" r="2.3"/><circle cx="182.0" cy="159.5" r="2.3"/><circle cx="185.3" cy="159.7" r="2.3"/><circle cx="187.7" cy="159.1" r="2.3"/><circle cx="191.3" cy="159.2" r="2.3"/><circle cx="193.8" cy="159.9" r="2.3"/><circle cx="197.1" cy="159.1" r="2.3"/><circle cx="199.5" cy="159.6" r="2.3"/><circle cx="111.1" cy="161.7" r="2.3"/><circle cx="114.0" cy="162.4" r="2.3"/><circle cx="116.9" cy="162.0" r="2.3"/><circle cx="122.5" cy="162.5" r="2.3"/><circle cx="126.3" cy="161.6" r="2.3"/><circle cx="129.2" cy="162.4" r="2.3"/><circle cx="135.0" cy="161.8" r="2.3"/><circle cx="137.6" cy="161.9" r="2.3"/><circle cx="140.8" cy="161.7" r="2.3"/><circle cx="143.1" cy="162.0" r="2.3"/><circle cx="146.4" cy="162.3" r="2.3"/><circle cx="149.4" cy="162.3" r="2.3"/><circle cx="151.6" cy="162.3" r="2.3"/><circle cx="154.9" cy="162.4" r="2.3"/><circle cx="169.2" cy="162.3" r="2.3"/><circle cx="172.1" cy="162.3" r="2.3"/><circle cx="175.2" cy="161.7" r="2.3"/><circle cx="178.0" cy="161.6" r="2.3"/><circle cx="180.8" cy="161.9" r="2.3"/><circle cx="184.3" cy="162.4" r="2.3"/><circle cx="186.3" cy="161.6" r="2.3"/><circle cx="189.9" cy="162.3" r="2.3"/><circle cx="192.4" cy="161.7" r="2.3"/><circle cx="195.3" cy="162.3" r="2.3"/><circle cx="198.3" cy="161.6" r="2.3"/><circle cx="204.0" cy="161.8" r="2.3"/><circle cx="112.4" cy="164.7" r="2.3"/><circle cx="115.6" cy="164.2" r="2.3"/><circle cx="118.2" cy="164.9" r="2.3"/><circle cx="124.2" cy="164.2" r="2.3"/><circle cx="127.0" cy="164.9" r="2.3"/><circle cx="129.9" cy="164.7" r="2.3"/><circle cx="132.8" cy="164.2" r="2.3"/><circle cx="135.7" cy="164.3" r="2.3"/><circle cx="138.8" cy="164.7" r="2.3"/><circle cx="142.0" cy="164.7" r="2.3"/><circle cx="145.1" cy="164.2" r="2.3"/><circle cx="147.1" cy="165.0" r="2.3"/><circle cx="150.4" cy="164.9" r="2.3"/><circle cx="153.9" cy="165.0" r="2.3"/><circle cx="171.2" cy="165.0" r="2.3"/><circle cx="176.9" cy="164.8" r="2.3"/><circle cx="179.7" cy="164.8" r="2.3"/><circle cx="182.2" cy="164.6" r="2.3"/><circle cx="184.9" cy="164.3" r="2.3"/><circle cx="187.7" cy="164.9" r="2.3"/><circle cx="190.9" cy="164.4" r="2.3"/><circle cx="194.1" cy="164.8" r="2.3"/><circle cx="200.1" cy="164.9" r="2.3"/><circle cx="111.2" cy="167.2" r="2.3"/><circle cx="114.3" cy="167.5" r="2.3"/><circle cx="117.4" cy="166.9" r="2.3"/><circle cx="120.0" cy="166.8" r="2.3"/><circle cx="122.6" cy="167.1" r="2.3"/><circle cx="126.4" cy="166.9" r="2.3"/><circle cx="128.9" cy="167.3" r="2.3"/><circle cx="132.0" cy="167.0" r="2.3"/><circle cx="134.5" cy="167.3" r="2.3"/><circle cx="137.7" cy="167.0" r="2.3"/><circle cx="140.8" cy="167.5" r="2.3"/><circle cx="143.2" cy="167.2" r="2.3"/><circle cx="145.8" cy="167.2" r="2.3"/><circle cx="151.8" cy="167.6" r="2.3"/><circle cx="155.0" cy="167.6" r="2.3"/><circle cx="168.9" cy="167.4" r="2.3"/><circle cx="171.9" cy="167.5" r="2.3"/><circle cx="175.6" cy="167.0" r="2.3"/><circle cx="178.0" cy="167.4" r="2.3"/><circle cx="181.0" cy="166.9" r="2.3"/><circle cx="183.4" cy="166.9" r="2.3"/><circle cx="187.0" cy="166.8" r="2.3"/><circle cx="190.2" cy="167.3" r="2.3"/><circle cx="193.0" cy="167.4" r="2.3"/><circle cx="196.0" cy="167.2" r="2.3"/><circle cx="201.3" cy="167.5" r="2.3"/><circle cx="203.7" cy="166.7" r="2.3"/><circle cx="112.9" cy="169.4" r="2.3"/><circle cx="115.5" cy="170.2" r="2.3"/><circle cx="118.3" cy="170.0" r="2.3"/><circle cx="121.3" cy="170.0" r="2.3"/><circle cx="124.5" cy="170.1" r="2.3"/><circle cx="127.5" cy="170.1" r="2.3"/><circle cx="129.8" cy="169.2" r="2.3"/><circle cx="135.7" cy="169.4" r="2.3"/><circle cx="138.4" cy="169.3" r="2.3"/><circle cx="141.6" cy="169.6" r="2.3"/><circle cx="144.9" cy="170.0" r="2.3"/><circle cx="147.7" cy="170.0" r="2.3"/><circle cx="150.8" cy="169.5" r="2.3"/><circle cx="153.8" cy="169.4" r="2.3"/><circle cx="170.9" cy="169.7" r="2.3"/><circle cx="174.0" cy="169.4" r="2.3"/><circle cx="176.3" cy="169.4" r="2.3"/><circle cx="179.8" cy="170.1" r="2.3"/><circle cx="182.0" cy="169.4" r="2.3"/><circle cx="185.2" cy="170.1" r="2.3"/><circle cx="188.2" cy="169.8" r="2.3"/><circle cx="191.0" cy="169.6" r="2.3"/><circle cx="116.8" cy="171.9" r="2.3"/><circle cx="119.5" cy="172.2" r="2.3"/><circle cx="122.6" cy="172.1" r="2.3"/><circle cx="126.0" cy="172.0" r="2.3"/><circle cx="128.8" cy="171.8" r="2.3"/><circle cx="134.0" cy="172.3" r="2.3"/><circle cx="137.4" cy="172.6" r="2.3"/><circle cx="140.4" cy="172.5" r="2.3"/><circle cx="143.3" cy="172.3" r="2.3"/><circle cx="146.0" cy="171.9" r="2.3"/><circle cx="149.2" cy="171.9" r="2.3"/><circle cx="152.4" cy="172.6" r="2.3"/><circle cx="154.7" cy="172.3" r="2.3"/><circle cx="169.5" cy="172.1" r="2.3"/><circle cx="172.8" cy="171.9" r="2.3"/><circle cx="183.7" cy="171.8" r="2.3"/><circle cx="189.9" cy="172.4" r="2.3"/><circle cx="127.7" cy="175.2" r="2.3"/><circle cx="129.8" cy="174.5" r="2.3"/><circle cx="133.3" cy="174.5" r="2.3"/><circle cx="136.4" cy="175.1" r="2.3"/><circle cx="139.3" cy="174.6" r="2.3"/><circle cx="141.4" cy="174.7" r="2.3"/><circle cx="145.1" cy="175.1" r="2.3"/><circle cx="147.6" cy="174.6" r="2.3"/><circle cx="153.4" cy="174.8" r="2.3"/><circle cx="171.2" cy="174.3" r="2.3"/><circle cx="174.0" cy="174.8" r="2.3"/><circle cx="176.9" cy="175.0" r="2.3"/><circle cx="182.2" cy="175.2" r="2.3"/><circle cx="190.6" cy="175.1" r="2.3"/><circle cx="131.5" cy="177.8" r="2.3"/><circle cx="134.8" cy="177.7" r="2.3"/><circle cx="137.3" cy="177.5" r="2.3"/><circle cx="140.1" cy="177.8" r="2.3"/><circle cx="143.2" cy="177.3" r="2.3"/><circle cx="146.4" cy="177.1" r="2.3"/><circle cx="149.0" cy="176.9" r="2.3"/><circle cx="151.5" cy="177.5" r="2.3"/><circle cx="154.7" cy="177.1" r="2.3"/><circle cx="172.5" cy="177.1" r="2.3"/><circle cx="175.6" cy="177.6" r="2.3"/><circle cx="127.0" cy="179.8" r="2.3"/><circle cx="130.5" cy="180.2" r="2.3"/><circle cx="133.3" cy="179.4" r="2.3"/><circle cx="135.5" cy="179.9" r="2.3"/><circle cx="139.1" cy="179.8" r="2.3"/><circle cx="141.6" cy="180.4" r="2.3"/><circle cx="144.2" cy="179.9" r="2.3"/><circle cx="148.0" cy="179.4" r="2.3"/><circle cx="150.2" cy="179.8" r="2.3"/><circle cx="153.6" cy="179.6" r="2.3"/><circle cx="170.3" cy="179.5" r="2.3"/><circle cx="173.6" cy="179.8" r="2.3"/><circle cx="185.7" cy="179.9" r="2.3"/><circle cx="194.4" cy="180.4" r="2.3"/><circle cx="117.6" cy="182.8" r="2.3"/><circle cx="120.3" cy="182.8" r="2.3"/><circle cx="125.5" cy="182.2" r="2.3"/><circle cx="128.8" cy="182.4" r="2.3"/><circle cx="131.3" cy="182.4" r="2.3"/><circle cx="134.8" cy="182.7" r="2.3"/><circle cx="137.1" cy="182.4" r="2.3"/><circle cx="140.1" cy="182.7" r="2.3"/><circle cx="143.0" cy="182.8" r="2.3"/><circle cx="146.5" cy="182.5" r="2.3"/><circle cx="149.0" cy="182.5" r="2.3"/><circle cx="151.8" cy="182.4" r="2.3"/><circle cx="155.3" cy="182.3" r="2.3"/><circle cx="166.0" cy="182.7" r="2.3"/><circle cx="169.9" cy="182.3" r="2.3"/><circle cx="171.9" cy="182.9" r="2.3"/><circle cx="174.8" cy="182.9" r="2.3"/><circle cx="178.3" cy="182.4" r="2.3"/><circle cx="181.1" cy="182.8" r="2.3"/><circle cx="184.1" cy="182.0" r="2.3"/><circle cx="186.5" cy="182.5" r="2.3"/><circle cx="189.8" cy="182.0" r="2.3"/><circle cx="107.4" cy="185.2" r="2.3"/><circle cx="109.5" cy="185.2" r="2.3"/><circle cx="112.6" cy="184.6" r="2.3"/><circle cx="116.2" cy="185.3" r="2.3"/><circle cx="118.8" cy="185.1" r="2.3"/><circle cx="124.2" cy="185.4" r="2.3"/><circle cx="126.9" cy="185.2" r="2.3"/><circle cx="130.6" cy="185.5" r="2.3"/><circle cx="132.8" cy="185.0" r="2.3"/><circle cx="135.9" cy="185.3" r="2.3"/><circle cx="138.5" cy="184.9" r="2.3"/><circle cx="141.6" cy="184.8" r="2.3"/><circle cx="144.9" cy="185.0" r="2.3"/><circle cx="147.4" cy="185.4" r="2.3"/><circle cx="150.6" cy="184.9" r="2.3"/><circle cx="153.3" cy="184.9" r="2.3"/><circle cx="155.8" cy="185.0" r="2.3"/><circle cx="170.5" cy="184.9" r="2.3"/><circle cx="173.2" cy="184.7" r="2.3"/><circle cx="176.3" cy="184.7" r="2.3"/><circle cx="179.6" cy="185.5" r="2.3"/><circle cx="182.8" cy="185.1" r="2.3"/><circle cx="185.4" cy="184.5" r="2.3"/><circle cx="187.8" cy="185.2" r="2.3"/><circle cx="105.7" cy="187.1" r="2.3"/><circle cx="108.4" cy="187.2" r="2.3"/><circle cx="114.1" cy="187.9" r="2.3"/><circle cx="117.1" cy="187.2" r="2.3"/><circle cx="119.8" cy="187.7" r="2.3"/><circle cx="122.7" cy="187.8" r="2.3"/><circle cx="126.3" cy="187.7" r="2.3"/><circle cx="129.1" cy="188.0" r="2.3"/><circle cx="131.8" cy="187.2" r="2.3"/><circle cx="134.5" cy="187.8" r="2.3"/><circle cx="137.1" cy="187.1" r="2.3"/><circle cx="140.8" cy="187.1" r="2.3"/><circle cx="143.6" cy="187.7" r="2.3"/><circle cx="146.7" cy="187.1" r="2.3"/><circle cx="148.7" cy="188.0" r="2.3"/><circle cx="151.7" cy="187.9" r="2.3"/><circle cx="154.8" cy="188.0" r="2.3"/><circle cx="168.9" cy="187.6" r="2.3"/><circle cx="172.0" cy="187.9" r="2.3"/><circle cx="175.1" cy="187.7" r="2.3"/><circle cx="178.5" cy="187.4" r="2.3"/><circle cx="181.2" cy="187.8" r="2.3"/><circle cx="183.6" cy="187.9" r="2.3"/><circle cx="186.9" cy="187.4" r="2.3"/><circle cx="106.8" cy="190.2" r="2.3"/><circle cx="110.0" cy="189.7" r="2.3"/><circle cx="112.6" cy="190.2" r="2.3"/><circle cx="115.7" cy="190.6" r="2.3"/><circle cx="118.9" cy="190.0" r="2.3"/><circle cx="121.3" cy="190.0" r="2.3"/><circle cx="124.4" cy="190.4" r="2.3"/><circle cx="127.2" cy="190.4" r="2.3"/><circle cx="129.7" cy="190.4" r="2.3"/><circle cx="133.3" cy="190.1" r="2.3"/><circle cx="136.5" cy="190.2" r="2.3"/><circle cx="138.9" cy="189.8" r="2.3"/><circle cx="141.9" cy="189.8" r="2.3"/><circle cx="144.7" cy="190.3" r="2.3"/><circle cx="150.3" cy="190.0" r="2.3"/><circle cx="153.1" cy="190.5" r="2.3"/><circle cx="156.8" cy="190.0" r="2.3"/><circle cx="170.7" cy="189.9" r="2.3"/><circle cx="173.5" cy="189.7" r="2.3"/><circle cx="176.1" cy="190.5" r="2.3"/><circle cx="179.5" cy="189.9" r="2.3"/><circle cx="182.2" cy="190.4" r="2.3"/><circle cx="185.0" cy="190.1" r="2.3"/><circle cx="188.7" cy="189.8" r="2.3"/><circle cx="90.8" cy="193.1" r="2.3"/><circle cx="94.2" cy="192.8" r="2.3"/><circle cx="97.4" cy="192.6" r="2.3"/><circle cx="103.1" cy="192.9" r="2.3"/><circle cx="108.2" cy="192.4" r="2.3"/><circle cx="116.6" cy="192.8" r="2.3"/><circle cx="126.3" cy="193.0" r="2.3"/><circle cx="131.7" cy="192.7" r="2.3"/><circle cx="134.2" cy="192.3" r="2.3"/><circle cx="137.9" cy="193.1" r="2.3"/><circle cx="140.3" cy="192.7" r="2.3"/><circle cx="142.8" cy="193.1" r="2.3"/><circle cx="145.7" cy="192.9" r="2.3"/><circle cx="149.2" cy="192.7" r="2.3"/><circle cx="152.0" cy="193.0" r="2.3"/><circle cx="155.1" cy="192.7" r="2.3"/><circle cx="169.0" cy="193.0" r="2.3"/><circle cx="172.2" cy="192.7" r="2.3"/><circle cx="178.1" cy="192.9" r="2.3"/><circle cx="180.5" cy="192.2" r="2.3"/><circle cx="183.5" cy="192.3" r="2.3"/><circle cx="187.1" cy="192.7" r="2.3"/><circle cx="144.4" cy="194.8" r="2.3"/><circle cx="147.8" cy="195.5" r="2.3"/><circle cx="150.1" cy="195.7" r="2.3"/><circle cx="153.1" cy="195.3" r="2.3"/><circle cx="156.2" cy="195.4" r="2.3"/><circle cx="171.1" cy="195.5" r="2.3"/><circle cx="174.0" cy="194.7" r="2.3"/><circle cx="179.2" cy="195.2" r="2.3"/><circle cx="146.5" cy="198.0" r="2.3"/><circle cx="148.7" cy="197.5" r="2.3"/><circle cx="152.2" cy="197.3" r="2.3"/><circle cx="154.5" cy="197.9" r="2.3"/><circle cx="169.8" cy="197.8" r="2.3"/><circle cx="172.8" cy="197.6" r="2.3"/><circle cx="178.0" cy="198.0" r="2.3"/><circle cx="180.7" cy="197.7" r="2.3"/><circle cx="144.4" cy="200.1" r="2.3"/><circle cx="148.0" cy="200.4" r="2.3"/><circle cx="150.3" cy="200.1" r="2.3"/><circle cx="153.8" cy="200.6" r="2.3"/><circle cx="156.1" cy="200.7" r="2.3"/><circle cx="167.5" cy="200.0" r="2.3"/><circle cx="170.6" cy="200.3" r="2.3"/><circle cx="173.3" cy="200.0" r="2.3"/><circle cx="176.3" cy="200.3" r="2.3"/><circle cx="179.6" cy="200.5" r="2.3"/><circle cx="182.7" cy="200.7" r="2.3"/><circle cx="185.6" cy="200.1" r="2.3"/><circle cx="146.0" cy="202.5" r="2.3"/><circle cx="151.4" cy="203.2" r="2.3"/><circle cx="154.7" cy="202.4" r="2.3"/><circle cx="166.7" cy="203.3" r="2.3"/><circle cx="169.3" cy="203.3" r="2.3"/><circle cx="172.4" cy="202.5" r="2.3"/><circle cx="175.2" cy="202.9" r="2.3"/><circle cx="177.7" cy="202.7" r="2.3"/><circle cx="181.5" cy="202.5" r="2.3"/><circle cx="184.4" cy="202.5" r="2.3"/><circle cx="186.6" cy="202.9" r="2.3"/><circle cx="190.1" cy="203.3" r="2.3"/><circle cx="119.0" cy="205.5" r="2.3"/><circle cx="121.6" cy="205.3" r="2.3"/><circle cx="123.9" cy="205.5" r="2.3"/><circle cx="127.1" cy="205.6" r="2.3"/><circle cx="130.4" cy="205.1" r="2.3"/><circle cx="133.2" cy="205.8" r="2.3"/><circle cx="135.6" cy="205.1" r="2.3"/><circle cx="138.5" cy="205.4" r="2.3"/><circle cx="142.0" cy="205.3" r="2.3"/><circle cx="144.7" cy="205.8" r="2.3"/><circle cx="147.6" cy="205.6" r="2.3"/><circle cx="150.7" cy="205.5" r="2.3"/><circle cx="153.0" cy="205.5" r="2.3"/><circle cx="156.3" cy="205.0" r="2.3"/><circle cx="167.8" cy="205.0" r="2.3"/><circle cx="171.0" cy="205.5" r="2.3"/><circle cx="176.5" cy="205.4" r="2.3"/><circle cx="179.7" cy="205.4" r="2.3"/><circle cx="191.6" cy="205.0" r="2.3"/><circle cx="117.3" cy="207.6" r="2.3"/><circle cx="120.5" cy="208.0" r="2.3"/><circle cx="122.7" cy="208.4" r="2.3"/><circle cx="125.4" cy="207.7" r="2.3"/><circle cx="128.4" cy="207.9" r="2.3"/><circle cx="131.8" cy="207.7" r="2.3"/><circle cx="134.5" cy="207.6" r="2.3"/><circle cx="137.3" cy="208.3" r="2.3"/><circle cx="140.4" cy="207.7" r="2.3"/><circle cx="142.8" cy="208.0" r="2.3"/><circle cx="146.3" cy="208.1" r="2.3"/><circle cx="149.6" cy="208.4" r="2.3"/><circle cx="151.6" cy="208.2" r="2.3"/><circle cx="166.1" cy="208.4" r="2.3"/><circle cx="169.1" cy="207.7" r="2.3"/><circle cx="172.4" cy="207.5" r="2.3"/><circle cx="175.5" cy="208.4" r="2.3"/><circle cx="181.2" cy="208.2" r="2.3"/><circle cx="183.7" cy="207.9" r="2.3"/><circle cx="186.5" cy="208.1" r="2.3"/><circle cx="189.6" cy="208.3" r="2.3"/><circle cx="119.1" cy="210.3" r="2.3"/><circle cx="121.7" cy="210.5" r="2.3"/><circle cx="124.0" cy="210.5" r="2.3"/><circle cx="127.4" cy="210.5" r="2.3"/><circle cx="130.7" cy="210.1" r="2.3"/><circle cx="132.9" cy="210.1" r="2.3"/><circle cx="136.3" cy="210.8" r="2.3"/><circle cx="138.6" cy="210.2" r="2.3"/><circle cx="142.3" cy="210.1" r="2.3"/><circle cx="144.7" cy="210.2" r="2.3"/><circle cx="147.8" cy="210.7" r="2.3"/><circle cx="150.7" cy="210.3" r="2.3"/><circle cx="152.9" cy="210.7" r="2.3"/><circle cx="156.5" cy="210.6" r="2.3"/><circle cx="168.3" cy="210.9" r="2.3"/><circle cx="171.3" cy="210.2" r="2.3"/><circle cx="173.8" cy="210.6" r="2.3"/><circle cx="179.0" cy="210.4" r="2.3"/><circle cx="117.6" cy="212.7" r="2.3"/><circle cx="119.6" cy="212.6" r="2.3"/><circle cx="123.4" cy="213.3" r="2.3"/><circle cx="125.9" cy="213.2" r="2.3"/><circle cx="128.7" cy="213.5" r="2.3"/><circle cx="131.9" cy="212.6" r="2.3"/><circle cx="134.2" cy="212.6" r="2.3"/><circle cx="137.4" cy="213.5" r="2.3"/><circle cx="140.3" cy="212.9" r="2.3"/><circle cx="145.8" cy="213.4" r="2.3"/><circle cx="149.0" cy="213.2" r="2.3"/><circle cx="152.5" cy="212.6" r="2.3"/><circle cx="169.7" cy="213.5" r="2.3"/><circle cx="172.0" cy="213.4" r="2.3"/><circle cx="178.2" cy="212.9" r="2.3"/><circle cx="180.4" cy="212.9" r="2.3"/><circle cx="183.4" cy="212.8" r="2.3"/><circle cx="187.0" cy="212.9" r="2.3"/><circle cx="126.8" cy="215.5" r="2.3"/><circle cx="130.7" cy="215.4" r="2.3"/><circle cx="132.7" cy="215.2" r="2.3"/><circle cx="136.3" cy="215.8" r="2.3"/><circle cx="141.8" cy="215.4" r="2.3"/><circle cx="144.4" cy="215.1" r="2.3"/><circle cx="147.2" cy="216.1" r="2.3"/><circle cx="150.3" cy="216.1" r="2.3"/><circle cx="153.4" cy="215.4" r="2.3"/><circle cx="156.4" cy="215.4" r="2.3"/><circle cx="167.4" cy="215.7" r="2.3"/><circle cx="170.3" cy="216.0" r="2.3"/><circle cx="173.2" cy="216.1" r="2.3"/><circle cx="177.0" cy="216.1" r="2.3"/><circle cx="179.3" cy="215.6" r="2.3"/><circle cx="182.6" cy="215.5" r="2.3"/><circle cx="185.2" cy="215.9" r="2.3"/><circle cx="132.2" cy="218.5" r="2.3"/><circle cx="135.0" cy="218.1" r="2.3"/><circle cx="137.1" cy="217.8" r="2.3"/><circle cx="140.0" cy="218.0" r="2.3"/><circle cx="146.6" cy="218.5" r="2.3"/><circle cx="148.5" cy="218.2" r="2.3"/><circle cx="154.6" cy="218.3" r="2.3"/><circle cx="169.5" cy="217.7" r="2.3"/><circle cx="175.6" cy="217.8" r="2.3"/><circle cx="178.5" cy="218.3" r="2.3"/><circle cx="181.0" cy="217.7" r="2.3"/><circle cx="183.7" cy="218.0" r="2.3"/><circle cx="133.0" cy="221.1" r="2.3"/><circle cx="142.3" cy="220.7" r="2.3"/><circle cx="144.3" cy="221.0" r="2.3"/><circle cx="148.0" cy="221.0" r="2.3"/><circle cx="150.8" cy="220.5" r="2.3"/><circle cx="153.9" cy="220.8" r="2.3"/><circle cx="156.0" cy="220.6" r="2.3"/><circle cx="173.9" cy="220.3" r="2.3"/><circle cx="131.6" cy="222.9" r="2.3"/><circle cx="134.3" cy="223.2" r="2.3"/><circle cx="137.4" cy="223.0" r="2.3"/><circle cx="139.9" cy="223.6" r="2.3"/><circle cx="142.9" cy="222.9" r="2.3"/><circle cx="145.6" cy="223.3" r="2.3"/><circle cx="149.4" cy="222.9" r="2.3"/><circle cx="151.5" cy="223.3" r="2.3"/><circle cx="154.7" cy="223.2" r="2.3"/><circle cx="178.4" cy="223.3" r="2.3"/><circle cx="180.9" cy="223.1" r="2.3"/><circle cx="133.4" cy="225.9" r="2.3"/><circle cx="135.5" cy="225.8" r="2.3"/><circle cx="138.5" cy="225.8" r="2.3"/><circle cx="141.7" cy="225.8" r="2.3"/><circle cx="147.1" cy="225.5" r="2.3"/><circle cx="150.5" cy="226.2" r="2.3"/><circle cx="153.5" cy="225.5" r="2.3"/><circle cx="156.3" cy="226.0" r="2.3"/><circle cx="167.6" cy="225.8" r="2.3"/><circle cx="170.3" cy="225.9" r="2.3"/><circle cx="173.9" cy="226.0" r="2.3"/><circle cx="176.1" cy="225.6" r="2.3"/><circle cx="108.5" cy="228.5" r="2.3"/><circle cx="113.9" cy="228.5" r="2.3"/><circle cx="126.3" cy="227.9" r="2.3"/><circle cx="129.0" cy="228.2" r="2.3"/><circle cx="143.7" cy="228.8" r="2.3"/><circle cx="149.3" cy="228.8" r="2.3"/><circle cx="151.9" cy="228.3" r="2.3"/><circle cx="155.3" cy="228.3" r="2.3"/><circle cx="157.8" cy="228.8" r="2.3"/><circle cx="166.7" cy="228.3" r="2.3"/><circle cx="168.9" cy="228.2" r="2.3"/><circle cx="172.7" cy="228.2" r="2.3"/><circle cx="175.3" cy="228.8" r="2.3"/><circle cx="177.5" cy="228.6" r="2.3"/><circle cx="106.7" cy="231.2" r="2.3"/><circle cx="116.2" cy="230.9" r="2.3"/><circle cx="118.4" cy="230.6" r="2.3"/><circle cx="127.3" cy="231.4" r="2.3"/><circle cx="129.7" cy="230.5" r="2.3"/><circle cx="133.4" cy="231.0" r="2.3"/><circle cx="142.3" cy="231.0" r="2.3"/><circle cx="144.6" cy="231.0" r="2.3"/><circle cx="147.6" cy="230.6" r="2.3"/><circle cx="153.8" cy="230.7" r="2.3"/><circle cx="156.0" cy="230.7" r="2.3"/><circle cx="167.6" cy="231.1" r="2.3"/><circle cx="170.7" cy="231.2" r="2.3"/><circle cx="173.3" cy="230.9" r="2.3"/><circle cx="176.5" cy="231.3" r="2.3"/><circle cx="108.5" cy="233.2" r="2.3"/><circle cx="113.9" cy="233.6" r="2.3"/><circle cx="120.0" cy="233.2" r="2.3"/><circle cx="128.5" cy="233.6" r="2.3"/><circle cx="142.9" cy="233.2" r="2.3"/><circle cx="145.7" cy="233.6" r="2.3"/><circle cx="149.4" cy="233.2" r="2.3"/><circle cx="152.3" cy="233.7" r="2.3"/><circle cx="157.5" cy="233.6" r="2.3"/><circle cx="166.6" cy="233.2" r="2.3"/><circle cx="169.5" cy="233.5" r="2.3"/><circle cx="172.2" cy="233.9" r="2.3"/><circle cx="174.9" cy="233.6" r="2.3"/><circle cx="177.9" cy="233.9" r="2.3"/><circle cx="109.9" cy="236.1" r="2.3"/><circle cx="127.4" cy="236.1" r="2.3"/><circle cx="132.9" cy="236.1" r="2.3"/><circle cx="136.4" cy="235.7" r="2.3"/><circle cx="141.9" cy="235.8" r="2.3"/><circle cx="144.2" cy="235.7" r="2.3"/><circle cx="148.1" cy="235.7" r="2.3"/><circle cx="150.7" cy="235.6" r="2.3"/><circle cx="153.7" cy="236.3" r="2.3"/><circle cx="168.1" cy="235.8" r="2.3"/><circle cx="171.1" cy="235.8" r="2.3"/><circle cx="173.2" cy="235.8" r="2.3"/><circle cx="176.1" cy="236.0" r="2.3"/><circle cx="179.7" cy="235.7" r="2.3"/><circle cx="143.1" cy="238.1" r="2.3"/><circle cx="145.6" cy="238.9" r="2.3"/><circle cx="148.6" cy="238.7" r="2.3"/><circle cx="152.0" cy="238.4" r="2.3"/><circle cx="154.8" cy="239.0" r="2.3"/><circle cx="158.2" cy="238.6" r="2.3"/><circle cx="166.3" cy="238.7" r="2.3"/><circle cx="169.9" cy="238.6" r="2.3"/><circle cx="171.9" cy="238.9" r="2.3"/><circle cx="174.7" cy="238.5" r="2.3"/><circle cx="178.0" cy="239.0" r="2.3"/><circle cx="180.6" cy="238.8" r="2.3"/><circle cx="142.2" cy="240.8" r="2.3"/><circle cx="145.1" cy="241.4" r="2.3"/><circle cx="147.9" cy="241.1" r="2.3"/><circle cx="150.2" cy="241.3" r="2.3"/><circle cx="153.5" cy="241.0" r="2.3"/><circle cx="156.6" cy="241.0" r="2.3"/><circle cx="168.2" cy="241.5" r="2.3"/><circle cx="174.1" cy="241.4" r="2.3"/><circle cx="176.9" cy="241.3" r="2.3"/><circle cx="179.4" cy="241.1" r="2.3"/><circle cx="182.0" cy="241.0" r="2.3"/><circle cx="143.6" cy="243.5" r="2.3"/><circle cx="146.4" cy="243.8" r="2.3"/><circle cx="152.3" cy="243.2" r="2.3"/><circle cx="155.0" cy="243.5" r="2.3"/><circle cx="158.2" cy="243.4" r="2.3"/><circle cx="169.2" cy="243.5" r="2.3"/><circle cx="172.7" cy="243.9" r="2.3"/><circle cx="174.6" cy="243.3" r="2.3"/><circle cx="178.3" cy="243.5" r="2.3"/><circle cx="180.9" cy="243.2" r="2.3"/><circle cx="183.6" cy="244.1" r="2.3"/><circle cx="186.8" cy="243.7" r="2.3"/><circle cx="144.3" cy="246.3" r="2.3"/><circle cx="147.6" cy="246.5" r="2.3"/><circle cx="150.3" cy="246.1" r="2.3"/><circle cx="153.6" cy="246.6" r="2.3"/><circle cx="156.4" cy="246.2" r="2.3"/><circle cx="167.9" cy="246.3" r="2.3"/><circle cx="171.0" cy="245.8" r="2.3"/><circle cx="173.6" cy="246.6" r="2.3"/><circle cx="179.3" cy="246.0" r="2.3"/><circle cx="182.7" cy="246.4" r="2.3"/><circle cx="185.5" cy="245.9" r="2.3"/><circle cx="187.7" cy="246.6" r="2.3"/><circle cx="137.9" cy="248.6" r="2.3"/><circle cx="140.4" cy="248.5" r="2.3"/><circle cx="142.9" cy="249.0" r="2.3"/><circle cx="146.5" cy="249.2" r="2.3"/><circle cx="148.9" cy="248.7" r="2.3"/><circle cx="152.0" cy="248.4" r="2.3"/><circle cx="154.5" cy="248.5" r="2.3"/><circle cx="172.6" cy="248.5" r="2.3"/><circle cx="174.8" cy="248.4" r="2.3"/><circle cx="178.5" cy="249.1" r="2.3"/><circle cx="180.7" cy="249.1" r="2.3"/><circle cx="183.5" cy="249.2" r="2.3"/><circle cx="187.2" cy="248.3" r="2.3"/><circle cx="139.2" cy="251.6" r="2.3"/><circle cx="142.3" cy="251.7" r="2.3"/><circle cx="144.5" cy="251.3" r="2.3"/><circle cx="147.5" cy="251.2" r="2.3"/><circle cx="150.8" cy="250.9" r="2.3"/><circle cx="153.2" cy="251.1" r="2.3"/><circle cx="156.4" cy="251.7" r="2.3"/><circle cx="168.0" cy="251.4" r="2.3"/><circle cx="171.3" cy="251.4" r="2.3"/><circle cx="173.4" cy="251.4" r="2.3"/><circle cx="179.0" cy="250.8" r="2.3"/><circle cx="182.8" cy="251.2" r="2.3"/><circle cx="185.7" cy="251.8" r="2.3"/><circle cx="188.6" cy="251.3" r="2.3"/><circle cx="140.2" cy="254.3" r="2.3"/><circle cx="143.0" cy="254.2" r="2.3"/><circle cx="145.9" cy="253.8" r="2.3"/><circle cx="149.3" cy="254.1" r="2.3"/><circle cx="151.7" cy="253.5" r="2.3"/><circle cx="154.8" cy="253.6" r="2.3"/><circle cx="172.4" cy="253.6" r="2.3"/><circle cx="175.5" cy="253.7" r="2.3"/><circle cx="178.1" cy="253.7" r="2.3"/><circle cx="180.7" cy="253.7" r="2.3"/><circle cx="183.3" cy="254.1" r="2.3"/><circle cx="186.4" cy="254.1" r="2.3"/><circle cx="138.9" cy="256.6" r="2.3"/><circle cx="142.3" cy="256.9" r="2.3"/><circle cx="144.9" cy="256.0" r="2.3"/><circle cx="147.4" cy="256.8" r="2.3"/><circle cx="156.0" cy="256.5" r="2.3"/><circle cx="167.5" cy="256.3" r="2.3"/><circle cx="170.4" cy="256.5" r="2.3"/><circle cx="173.8" cy="256.7" r="2.3"/><circle cx="176.5" cy="256.5" r="2.3"/><circle cx="179.7" cy="256.6" r="2.3"/><circle cx="182.9" cy="256.7" r="2.3"/><circle cx="185.3" cy="256.5" r="2.3"/><circle cx="137.5" cy="258.8" r="2.3"/><circle cx="140.5" cy="258.8" r="2.3"/><circle cx="143.5" cy="258.7" r="2.3"/><circle cx="146.4" cy="259.4" r="2.3"/><circle cx="149.2" cy="258.7" r="2.3"/><circle cx="155.4" cy="258.6" r="2.3"/><circle cx="169.2" cy="258.8" r="2.3"/><circle cx="172.5" cy="258.8" r="2.3"/><circle cx="175.0" cy="259.1" r="2.3"/><circle cx="177.9" cy="258.8" r="2.3"/><circle cx="180.4" cy="258.8" r="2.3"/><circle cx="183.8" cy="258.9" r="2.3"/><circle cx="186.4" cy="259.1" r="2.3"/><circle cx="138.4" cy="261.5" r="2.3"/><circle cx="141.4" cy="261.1" r="2.3"/><circle cx="144.4" cy="261.2" r="2.3"/><circle cx="147.4" cy="261.2" r="2.3"/><circle cx="150.3" cy="261.5" r="2.3"/><circle cx="153.7" cy="261.5" r="2.3"/><circle cx="155.8" cy="261.3" r="2.3"/><circle cx="168.3" cy="261.7" r="2.3"/><circle cx="170.4" cy="261.4" r="2.3"/><circle cx="174.2" cy="261.4" r="2.3"/><circle cx="176.3" cy="261.2" r="2.3"/><circle cx="179.0" cy="261.3" r="2.3"/><circle cx="182.0" cy="261.9" r="2.3"/><circle cx="185.6" cy="261.5" r="2.3"/><circle cx="188.7" cy="261.2" r="2.3"/><circle cx="191.0" cy="261.9" r="2.3"/><circle cx="137.0" cy="264.2" r="2.3"/><circle cx="140.4" cy="263.7" r="2.3"/><circle cx="143.3" cy="264.1" r="2.3"/><circle cx="145.9" cy="264.1" r="2.3"/><circle cx="152.2" cy="264.0" r="2.3"/><circle cx="154.7" cy="264.5" r="2.3"/><circle cx="169.8" cy="264.2" r="2.3"/><circle cx="172.2" cy="264.4" r="2.3"/><circle cx="174.9" cy="264.0" r="2.3"/><circle cx="178.6" cy="263.9" r="2.3"/><circle cx="180.5" cy="263.8" r="2.3"/><circle cx="183.6" cy="263.6" r="2.3"/><circle cx="187.3" cy="263.9" r="2.3"/><circle cx="189.7" cy="264.1" r="2.3"/><circle cx="192.7" cy="264.4" r="2.3"/><circle cx="113.2" cy="267.0" r="2.3"/><circle cx="116.1" cy="266.7" r="2.3"/><circle cx="118.2" cy="266.5" r="2.3"/><circle cx="122.0" cy="266.3" r="2.3"/><circle cx="124.4" cy="266.4" r="2.3"/><circle cx="127.3" cy="266.2" r="2.3"/><circle cx="130.3" cy="266.8" r="2.3"/><circle cx="136.1" cy="266.3" r="2.3"/><circle cx="138.4" cy="266.2" r="2.3"/><circle cx="141.5" cy="267.0" r="2.3"/><circle cx="144.9" cy="266.5" r="2.3"/><circle cx="147.8" cy="266.4" r="2.3"/><circle cx="150.0" cy="267.0" r="2.3"/><circle cx="173.5" cy="266.9" r="2.3"/><circle cx="176.2" cy="266.4" r="2.3"/><circle cx="179.3" cy="266.9" r="2.3"/><circle cx="181.9" cy="266.9" r="2.3"/><circle cx="188.4" cy="266.7" r="2.3"/><circle cx="191.5" cy="266.2" r="2.3"/><circle cx="194.1" cy="266.5" r="2.3"/><circle cx="196.4" cy="266.6" r="2.3"/><circle cx="114.5" cy="269.6" r="2.3"/><circle cx="117.5" cy="268.8" r="2.3"/><circle cx="120.3" cy="269.1" r="2.3"/><circle cx="123.0" cy="268.8" r="2.3"/><circle cx="125.5" cy="268.9" r="2.3"/><circle cx="128.6" cy="269.4" r="2.3"/><circle cx="131.5" cy="269.0" r="2.3"/><circle cx="134.4" cy="269.5" r="2.3"/><circle cx="137.7" cy="269.2" r="2.3"/><circle cx="140.4" cy="269.4" r="2.3"/><circle cx="143.4" cy="268.9" r="2.3"/><circle cx="145.9" cy="268.9" r="2.3"/><circle cx="149.3" cy="269.3" r="2.3"/><circle cx="152.0" cy="268.9" r="2.3"/><circle cx="172.7" cy="268.8" r="2.3"/><circle cx="174.7" cy="269.0" r="2.3"/><circle cx="178.0" cy="269.0" r="2.3"/><circle cx="181.4" cy="269.2" r="2.3"/><circle cx="184.2" cy="269.3" r="2.3"/><circle cx="186.5" cy="269.2" r="2.3"/><circle cx="189.2" cy="269.2" r="2.3"/><circle cx="192.6" cy="269.3" r="2.3"/><circle cx="195.9" cy="269.6" r="2.3"/><circle cx="198.0" cy="269.4" r="2.3"/><circle cx="112.7" cy="271.7" r="2.3"/><circle cx="115.4" cy="271.5" r="2.3"/><circle cx="119.1" cy="271.9" r="2.3"/><circle cx="121.3" cy="271.8" r="2.3"/><circle cx="124.2" cy="271.9" r="2.3"/><circle cx="129.8" cy="271.6" r="2.3"/><circle cx="133.1" cy="271.9" r="2.3"/><circle cx="139.1" cy="271.9" r="2.3"/><circle cx="141.9" cy="271.2" r="2.3"/><circle cx="144.6" cy="271.9" r="2.3"/><circle cx="147.7" cy="271.5" r="2.3"/><circle cx="150.2" cy="272.1" r="2.3"/><circle cx="170.3" cy="271.7" r="2.3"/><circle cx="173.4" cy="272.1" r="2.3"/><circle cx="176.9" cy="271.8" r="2.3"/><circle cx="179.1" cy="271.3" r="2.3"/><circle cx="182.8" cy="271.9" r="2.3"/><circle cx="185.7" cy="271.7" r="2.3"/><circle cx="187.7" cy="272.1" r="2.3"/><circle cx="191.0" cy="271.6" r="2.3"/><circle cx="194.2" cy="271.5" r="2.3"/><circle cx="196.9" cy="271.4" r="2.3"/><circle cx="114.4" cy="273.8" r="2.3"/><circle cx="117.1" cy="274.0" r="2.3"/><circle cx="119.7" cy="274.0" r="2.3"/><circle cx="123.1" cy="273.9" r="2.3"/><circle cx="126.4" cy="274.0" r="2.3"/><circle cx="128.2" cy="274.4" r="2.3"/><circle cx="132.0" cy="274.4" r="2.3"/><circle cx="134.9" cy="274.5" r="2.3"/><circle cx="137.3" cy="274.1" r="2.3"/><circle cx="139.9" cy="274.5" r="2.3"/><circle cx="143.2" cy="274.2" r="2.3"/><circle cx="146.0" cy="274.2" r="2.3"/><circle cx="148.8" cy="274.3" r="2.3"/><circle cx="151.4" cy="274.2" r="2.3"/><circle cx="172.7" cy="274.7" r="2.3"/><circle cx="174.8" cy="273.9" r="2.3"/><circle cx="178.5" cy="274.6" r="2.3"/><circle cx="180.7" cy="274.2" r="2.3"/><circle cx="184.0" cy="274.4" r="2.3"/><circle cx="186.4" cy="274.2" r="2.3"/><circle cx="189.2" cy="273.9" r="2.3"/><circle cx="192.5" cy="274.2" r="2.3"/><circle cx="195.9" cy="274.3" r="2.3"/><circle cx="198.7" cy="274.7" r="2.3"/><circle cx="115.2" cy="277.1" r="2.3"/><circle cx="119.0" cy="276.8" r="2.3"/><circle cx="121.9" cy="277.1" r="2.3"/><circle cx="124.3" cy="277.0" r="2.3"/><circle cx="127.8" cy="277.2" r="2.3"/><circle cx="130.6" cy="276.4" r="2.3"/><circle cx="133.0" cy="276.7" r="2.3"/><circle cx="136.4" cy="276.5" r="2.3"/><circle cx="138.4" cy="276.9" r="2.3"/><circle cx="142.3" cy="276.9" r="2.3"/><circle cx="144.6" cy="277.2" r="2.3"/><circle cx="147.6" cy="276.8" r="2.3"/><circle cx="150.9" cy="276.6" r="2.3"/><circle cx="171.1" cy="276.3" r="2.3"/><circle cx="173.7" cy="276.4" r="2.3"/><circle cx="176.3" cy="277.0" r="2.3"/><circle cx="179.4" cy="276.7" r="2.3"/><circle cx="181.9" cy="276.6" r="2.3"/><circle cx="185.3" cy="276.5" r="2.3"/><circle cx="188.4" cy="276.8" r="2.3"/><circle cx="190.9" cy="277.3" r="2.3"/><circle cx="194.5" cy="277.3" r="2.3"/><circle cx="196.6" cy="277.2" r="2.3"/><circle cx="91.0" cy="12.0" r="2.3"/><circle cx="94.8" cy="11.9" r="2.3"/><circle cx="107.0" cy="12.0" r="2.3"/><circle cx="114.5" cy="12.5" r="2.3"/><circle cx="100.3" cy="17.2" r="2.3"/><circle cx="63.1" cy="28.3" r="2.3"/><circle cx="72.1" cy="23.0" r="2.3"/><circle cx="73.1" cy="29.6" r="2.3"/><circle cx="76.5" cy="27.3" r="2.3"/><circle cx="80.2" cy="23.4" r="2.3"/><circle cx="81.5" cy="29.2" r="2.3"/><circle cx="83.6" cy="59.2" r="2.3"/><circle cx="89.5" cy="70.4" r="2.3"/><circle cx="92.0" cy="13.1" r="2.3"/><circle cx="95.5" cy="12.2" r="2.3"/><circle cx="100.4" cy="17.0" r="2.3"/><circle cx="96.3" cy="33.8" r="2.3"/><circle cx="100.7" cy="35.1" r="2.3"/><circle cx="104.4" cy="37.9" r="2.3"/><circle cx="106.3" cy="45.9" r="2.3"/><circle cx="106.9" cy="12.4" r="2.3"/><circle cx="107.5" cy="18.6" r="2.3"/><circle cx="98.0" cy="69.5" r="2.3"/><circle cx="102.5" cy="66.4" r="2.3"/><circle cx="102.5" cy="72.0" r="2.3"/><circle cx="105.5" cy="36.4" r="2.3"/><circle cx="111.6" cy="37.4" r="2.3"/><circle cx="200.4" cy="11.5" r="2.3"/><circle cx="206.0" cy="15.4" r="2.3"/><circle cx="199.3" cy="18.6" r="2.3"/><circle cx="202.4" cy="27.5" r="2.3"/><circle cx="200.0" cy="44.5" r="2.3"/><circle cx="200.0" cy="47.3" r="2.3"/><circle cx="193.8" cy="48.4" r="2.3"/><circle cx="195.0" cy="55.0" r="2.3"/><circle cx="196.0" cy="24.0" r="2.3"/><circle cx="199.0" cy="29.0" r="2.3"/><circle cx="194.0" cy="27.0" r="2.3"/><circle cx="83.6" cy="58.9" r="2.3"/><circle cx="91.3" cy="61.2" r="2.3"/><circle cx="89.6" cy="70.2" r="2.3"/><circle cx="98.1" cy="69.5" r="2.3"/><circle cx="102.7" cy="72.0" r="2.3"/><circle cx="99.6" cy="82.4" r="2.3"/><circle cx="56.7" cy="86.9" r="2.3"/><circle cx="62.8" cy="91.1" r="2.3"/><circle cx="70.0" cy="86.8" r="2.3"/><circle cx="74.1" cy="86.8" r="2.3"/><circle cx="72.0" cy="90.8" r="2.3"/><circle cx="99.2" cy="90.6" r="2.3"/><circle cx="101.6" cy="94.4" r="2.3"/><circle cx="202.6" cy="60.7" r="2.3"/><circle cx="215.3" cy="61.2" r="2.3"/><circle cx="202.0" cy="73.6" r="2.3"/><circle cx="194.0" cy="73.0" r="2.3"/><circle cx="43.4" cy="110.6" r="2.3"/><circle cx="48.0" cy="114.0" r="2.3"/><circle cx="58.5" cy="109.8" r="2.3"/><circle cx="60.7" cy="108.2" r="2.3"/><circle cx="66.0" cy="113.9" r="2.3"/><circle cx="70.0" cy="110.6" r="2.3"/><circle cx="74.0" cy="114.9" r="2.3"/><circle cx="77.5" cy="109.8" r="2.3"/><circle cx="81.0" cy="112.0" r="2.3"/><circle cx="84.5" cy="113.0" r="2.3"/><circle cx="90.0" cy="111.0" r="2.3"/><circle cx="93.0" cy="114.0" r="2.3"/><circle cx="100.4" cy="120.2" r="2.3"/><circle cx="100.0" cy="125.0" r="2.3"/><circle cx="107.5" cy="122.0" r="2.3"/><circle cx="109.7" cy="126.8" r="2.3"/><circle cx="98.6" cy="141.5" r="2.3"/><circle cx="106.7" cy="141.0" r="2.3"/><circle cx="115.0" cy="140.7" r="2.3"/><circle cx="202.0" cy="109.0" r="2.3"/><circle cx="208.2" cy="104.9" r="2.3"/><circle cx="197.9" cy="109.8" r="2.3"/><circle cx="67.1" cy="155.2" r="2.3"/><circle cx="74.1" cy="155.2" r="2.3"/><circle cx="93.0" cy="155.0" r="2.3"/><circle cx="99.8" cy="151.7" r="2.3"/><circle cx="108.4" cy="158.4" r="2.3"/><circle cx="93.0" cy="166.4" r="2.3"/><circle cx="96.5" cy="167.0" r="2.3"/><circle cx="101.0" cy="168.2" r="2.3"/><circle cx="95.1" cy="174.8" r="2.3"/><circle cx="103.5" cy="174.0" r="2.3"/><circle cx="115.0" cy="174.0" r="2.3"/><circle cx="52.6" cy="188.7" r="2.3"/><circle cx="56.7" cy="189.7" r="2.3"/><circle cx="72.0" cy="188.5" r="2.3"/><circle cx="75.2" cy="185.0" r="2.3"/><circle cx="84.5" cy="184.8" r="2.3"/><circle cx="87.5" cy="190.5" r="2.3"/><circle cx="94.0" cy="187.5" r="2.3"/><circle cx="95.7" cy="189.0" r="2.3"/><circle cx="101.4" cy="183.5" r="2.3"/><circle cx="230.0" cy="151.7" r="2.3"/><circle cx="233.5" cy="153.2" r="2.3"/><circle cx="203.6" cy="176.3" r="2.3"/><circle cx="225.3" cy="190.0" r="2.3"/><circle cx="213.0" cy="157.8" r="2.3"/><circle cx="206.0" cy="155.0" r="2.3"/><circle cx="204.0" cy="160.0" r="2.3"/><circle cx="202.0" cy="165.0" r="2.3"/><circle cx="103.0" cy="206.7" r="2.3"/><circle cx="100.8" cy="211.6" r="2.3"/><circle cx="105.5" cy="210.8" r="2.3"/><circle cx="112.6" cy="219.0" r="2.3"/><circle cx="118.7" cy="227.0" r="2.3"/><circle cx="207.8" cy="206.7" r="2.3"/><circle cx="207.0" cy="213.0" r="2.3"/><circle cx="195.0" cy="217.7" r="2.3"/><circle cx="200.5" cy="213.3" r="2.3"/><circle cx="239.3" cy="223.3" r="2.3"/><circle cx="205.5" cy="220.9" r="2.3"/><circle cx="123.7" cy="253.0" r="2.3"/><circle cx="128.6" cy="252.0" r="2.3"/><circle cx="131.0" cy="251.0" r="2.3"/><circle cx="132.6" cy="259.7" r="2.3"/><circle cx="136.0" cy="258.5" r="2.3"/><circle cx="137.5" cy="244.0" r="2.3"/><circle cx="138.0" cy="240.0" r="2.3"/><circle cx="134.0" cy="239.0" r="2.3"/><circle cx="123.5" cy="264.3" r="2.3"/><circle cx="121.8" cy="268.5" r="2.3"/><circle cx="93.9" cy="271.0" r="2.3"/><circle cx="97.7" cy="270.0" r="2.3"/><circle cx="100.3" cy="269.0" r="2.3"/><circle cx="97.0" cy="276.4" r="2.3"/><circle cx="100.2" cy="276.6" r="2.3"/><circle cx="104.0" cy="272.5" r="2.3"/><circle cx="108.0" cy="270.0" r="2.3"/><circle cx="115.4" cy="269.0" r="2.3"/><circle cx="184.0" cy="240.5" r="2.3"/><circle cx="188.0" cy="244.7" r="2.3"/><circle cx="197.3" cy="253.0" r="2.3"/><circle cx="191.0" cy="254.0" r="2.3"/></g><g fill="#4a5bad"><circle cx="135.9" cy="12.0" r="2.3"/><circle cx="139.3" cy="11.9" r="2.3"/><circle cx="144.3" cy="11.3" r="2.3"/><circle cx="147.3" cy="11.1" r="2.3"/><circle cx="151.0" cy="11.8" r="2.3"/><circle cx="152.9" cy="12.0" r="2.3"/><circle cx="167.4" cy="11.3" r="2.3"/><circle cx="171.2" cy="11.7" r="2.3"/><circle cx="173.6" cy="11.2" r="2.3"/><circle cx="176.6" cy="11.2" r="2.3"/><circle cx="179.9" cy="11.3" r="2.3"/><circle cx="182.0" cy="11.6" r="2.3"/><circle cx="185.7" cy="11.8" r="2.3"/><circle cx="188.5" cy="11.6" r="2.3"/><circle cx="134.1" cy="13.9" r="2.3"/><circle cx="137.0" cy="14.1" r="2.3"/><circle cx="140.0" cy="14.6" r="2.3"/><circle cx="142.8" cy="14.3" r="2.3"/><circle cx="146.3" cy="14.5" r="2.3"/><circle cx="149.4" cy="14.1" r="2.3"/><circle cx="151.7" cy="13.8" r="2.3"/><circle cx="154.5" cy="13.7" r="2.3"/><circle cx="169.0" cy="14.1" r="2.3"/><circle cx="172.2" cy="14.1" r="2.3"/><circle cx="175.4" cy="14.6" r="2.3"/><circle cx="178.2" cy="14.1" r="2.3"/><circle cx="180.5" cy="14.4" r="2.3"/><circle cx="184.2" cy="14.5" r="2.3"/><circle cx="136.5" cy="16.7" r="2.3"/><circle cx="138.8" cy="17.0" r="2.3"/><circle cx="142.3" cy="16.3" r="2.3"/><circle cx="145.0" cy="17.2" r="2.3"/><circle cx="147.7" cy="16.6" r="2.3"/><circle cx="150.9" cy="16.7" r="2.3"/><circle cx="153.3" cy="16.3" r="2.3"/><circle cx="167.7" cy="16.3" r="2.3"/><circle cx="170.8" cy="16.8" r="2.3"/><circle cx="173.4" cy="16.6" r="2.3"/><circle cx="177.0" cy="16.2" r="2.3"/><circle cx="179.5" cy="16.8" r="2.3"/><circle cx="182.8" cy="17.1" r="2.3"/><circle cx="184.9" cy="16.7" r="2.3"/><circle cx="134.5" cy="19.5" r="2.3"/><circle cx="137.6" cy="19.4" r="2.3"/><circle cx="139.9" cy="19.6" r="2.3"/><circle cx="143.5" cy="18.9" r="2.3"/><circle cx="146.6" cy="19.3" r="2.3"/><circle cx="149.1" cy="19.0" r="2.3"/><circle cx="151.5" cy="19.2" r="2.3"/><circle cx="154.3" cy="19.0" r="2.3"/><circle cx="169.5" cy="19.0" r="2.3"/><circle cx="172.0" cy="19.3" r="2.3"/><circle cx="175.0" cy="19.4" r="2.3"/><circle cx="178.4" cy="19.3" r="2.3"/><circle cx="181.0" cy="19.4" r="2.3"/><circle cx="183.8" cy="19.0" r="2.3"/><circle cx="171.1" cy="21.5" r="2.3"/><circle cx="173.6" cy="21.5" r="2.3"/><circle cx="176.7" cy="22.2" r="2.3"/><circle cx="179.5" cy="21.9" r="2.3"/><circle cx="182.2" cy="21.3" r="2.3"/><circle cx="184.8" cy="22.1" r="2.3"/><circle cx="188.1" cy="21.5" r="2.3"/><circle cx="172.7" cy="24.6" r="2.3"/><circle cx="175.3" cy="24.3" r="2.3"/><circle cx="178.0" cy="24.6" r="2.3"/><circle cx="180.9" cy="24.3" r="2.3"/><circle cx="184.3" cy="24.0" r="2.3"/><circle cx="186.7" cy="24.8" r="2.3"/><circle cx="190.0" cy="24.8" r="2.3"/><circle cx="167.8" cy="27.0" r="2.3"/><circle cx="170.3" cy="26.5" r="2.3"/><circle cx="173.6" cy="26.4" r="2.3"/><circle cx="177.1" cy="26.9" r="2.3"/><circle cx="179.2" cy="26.6" r="2.3"/><circle cx="182.0" cy="27.4" r="2.3"/><circle cx="184.8" cy="27.1" r="2.3"/><circle cx="169.3" cy="29.6" r="2.3"/><circle cx="172.5" cy="29.5" r="2.3"/><circle cx="175.1" cy="29.1" r="2.3"/><circle cx="177.7" cy="29.4" r="2.3"/><circle cx="181.5" cy="29.0" r="2.3"/><circle cx="183.8" cy="29.2" r="2.3"/><circle cx="187.3" cy="29.9" r="2.3"/><circle cx="144.3" cy="31.8" r="2.3"/><circle cx="150.6" cy="32.2" r="2.3"/><circle cx="153.5" cy="32.1" r="2.3"/><circle cx="156.0" cy="32.0" r="2.3"/><circle cx="168.4" cy="31.8" r="2.3"/><circle cx="171.2" cy="31.9" r="2.3"/><circle cx="174.0" cy="31.6" r="2.3"/><circle cx="176.2" cy="31.8" r="2.3"/><circle cx="179.9" cy="32.3" r="2.3"/><circle cx="182.7" cy="32.0" r="2.3"/><circle cx="184.9" cy="32.4" r="2.3"/><circle cx="131.7" cy="34.2" r="2.3"/><circle cx="137.2" cy="34.2" r="2.3"/><circle cx="143.5" cy="34.1" r="2.3"/><circle cx="148.9" cy="34.8" r="2.3"/><circle cx="152.4" cy="34.6" r="2.3"/><circle cx="169.2" cy="34.7" r="2.3"/><circle cx="171.8" cy="34.2" r="2.3"/><circle cx="174.7" cy="34.6" r="2.3"/><circle cx="177.6" cy="34.4" r="2.3"/><circle cx="180.7" cy="34.5" r="2.3"/><circle cx="184.2" cy="34.2" r="2.3"/><circle cx="186.9" cy="34.4" r="2.3"/><circle cx="133.2" cy="36.7" r="2.3"/><circle cx="136.5" cy="36.7" r="2.3"/><circle cx="144.9" cy="37.1" r="2.3"/><circle cx="150.3" cy="37.0" r="2.3"/><circle cx="152.9" cy="36.9" r="2.3"/><circle cx="168.4" cy="37.1" r="2.3"/><circle cx="171.2" cy="36.6" r="2.3"/><circle cx="173.2" cy="37.3" r="2.3"/><circle cx="176.6" cy="37.2" r="2.3"/><circle cx="179.9" cy="37.1" r="2.3"/><circle cx="182.0" cy="37.1" r="2.3"/><circle cx="185.0" cy="37.2" r="2.3"/><circle cx="131.5" cy="40.1" r="2.3"/><circle cx="134.6" cy="40.1" r="2.3"/><circle cx="137.9" cy="39.2" r="2.3"/><circle cx="143.0" cy="39.9" r="2.3"/><circle cx="146.3" cy="40.0" r="2.3"/><circle cx="149.6" cy="39.8" r="2.3"/><circle cx="151.8" cy="39.3" r="2.3"/><circle cx="155.0" cy="40.1" r="2.3"/><circle cx="169.5" cy="39.4" r="2.3"/><circle cx="172.3" cy="40.1" r="2.3"/><circle cx="175.0" cy="39.2" r="2.3"/><circle cx="177.6" cy="40.0" r="2.3"/><circle cx="181.0" cy="39.8" r="2.3"/><circle cx="183.6" cy="39.9" r="2.3"/><circle cx="187.0" cy="40.1" r="2.3"/><circle cx="145.1" cy="42.2" r="2.3"/><circle cx="147.7" cy="42.4" r="2.3"/><circle cx="150.5" cy="42.3" r="2.3"/><circle cx="153.4" cy="41.9" r="2.3"/><circle cx="156.3" cy="42.4" r="2.3"/><circle cx="167.5" cy="42.5" r="2.3"/><circle cx="171.2" cy="42.6" r="2.3"/><circle cx="174.0" cy="41.8" r="2.3"/><circle cx="176.4" cy="42.5" r="2.3"/><circle cx="179.4" cy="42.7" r="2.3"/><circle cx="182.7" cy="42.5" r="2.3"/><circle cx="185.3" cy="41.9" r="2.3"/><circle cx="143.1" cy="44.9" r="2.3"/><circle cx="146.1" cy="45.0" r="2.3"/><circle cx="152.4" cy="44.8" r="2.3"/><circle cx="154.8" cy="45.2" r="2.3"/><circle cx="168.8" cy="44.8" r="2.3"/><circle cx="172.4" cy="44.3" r="2.3"/><circle cx="175.4" cy="44.4" r="2.3"/><circle cx="178.1" cy="44.3" r="2.3"/><circle cx="180.9" cy="44.3" r="2.3"/><circle cx="183.4" cy="44.8" r="2.3"/><circle cx="186.4" cy="44.4" r="2.3"/><circle cx="144.5" cy="46.9" r="2.3"/><circle cx="150.0" cy="47.4" r="2.3"/><circle cx="153.6" cy="47.4" r="2.3"/><circle cx="156.7" cy="47.3" r="2.3"/><circle cx="170.6" cy="46.9" r="2.3"/><circle cx="173.8" cy="47.4" r="2.3"/><circle cx="176.8" cy="47.1" r="2.3"/><circle cx="179.4" cy="47.8" r="2.3"/><circle cx="182.3" cy="47.8" r="2.3"/><circle cx="184.9" cy="47.4" r="2.3"/><circle cx="187.8" cy="47.3" r="2.3"/><circle cx="143.5" cy="49.5" r="2.3"/><circle cx="149.3" cy="50.1" r="2.3"/><circle cx="152.3" cy="50.1" r="2.3"/><circle cx="169.0" cy="50.1" r="2.3"/><circle cx="172.6" cy="49.8" r="2.3"/><circle cx="175.2" cy="49.9" r="2.3"/><circle cx="178.5" cy="50.1" r="2.3"/><circle cx="181.2" cy="49.7" r="2.3"/><circle cx="183.3" cy="49.6" r="2.3"/><circle cx="187.1" cy="50.1" r="2.3"/><circle cx="144.2" cy="52.2" r="2.3"/><circle cx="147.5" cy="52.6" r="2.3"/><circle cx="150.2" cy="52.2" r="2.3"/><circle cx="153.1" cy="52.9" r="2.3"/><circle cx="156.4" cy="52.6" r="2.3"/><circle cx="171.1" cy="52.1" r="2.3"/><circle cx="173.9" cy="52.3" r="2.3"/><circle cx="176.4" cy="52.7" r="2.3"/><circle cx="179.9" cy="52.7" r="2.3"/><circle cx="182.1" cy="52.8" r="2.3"/><circle cx="185.5" cy="52.1" r="2.3"/><circle cx="188.1" cy="52.6" r="2.3"/><circle cx="178.6" cy="54.7" r="2.3"/><circle cx="186.5" cy="54.5" r="2.3"/><circle cx="177.0" cy="57.3" r="2.3"/><circle cx="177.5" cy="60.4" r="2.3"/><circle cx="183.9" cy="60.2" r="2.3"/><circle cx="181.0" cy="65.6" r="2.3"/><circle cx="183.4" cy="65.0" r="2.3"/><circle cx="173.9" cy="67.7" r="2.3"/><circle cx="179.4" cy="67.4" r="2.3"/><circle cx="182.3" cy="67.4" r="2.3"/><circle cx="185.2" cy="67.9" r="2.3"/><circle cx="188.4" cy="67.9" r="2.3"/><circle cx="175.5" cy="70.7" r="2.3"/><circle cx="178.0" cy="70.7" r="2.3"/><circle cx="181.4" cy="70.3" r="2.3"/><circle cx="184.2" cy="70.2" r="2.3"/><circle cx="186.6" cy="70.4" r="2.3"/><circle cx="173.3" cy="73.0" r="2.3"/><circle cx="177.0" cy="72.6" r="2.3"/><circle cx="179.4" cy="72.7" r="2.3"/><circle cx="181.9" cy="73.3" r="2.3"/><circle cx="184.9" cy="73.0" r="2.3"/><circle cx="188.0" cy="73.3" r="2.3"/><circle cx="168.9" cy="75.6" r="2.3"/><circle cx="172.8" cy="75.2" r="2.3"/><circle cx="170.8" cy="77.8" r="2.3"/><circle cx="174.0" cy="78.0" r="2.3"/><circle cx="169.8" cy="80.4" r="2.3"/><circle cx="172.5" cy="80.3" r="2.3"/><circle cx="168.1" cy="83.0" r="2.3"/><circle cx="170.4" cy="82.7" r="2.3"/><circle cx="173.9" cy="83.4" r="2.3"/><circle cx="172.1" cy="86.0" r="2.3"/><circle cx="174.6" cy="86.0" r="2.3"/><circle cx="174.8" cy="101.3" r="2.3"/><circle cx="177.6" cy="100.9" r="2.3"/><circle cx="180.5" cy="100.8" r="2.3"/><circle cx="183.8" cy="100.9" r="2.3"/><circle cx="186.5" cy="100.5" r="2.3"/><circle cx="193.1" cy="101.3" r="2.3"/><circle cx="177.0" cy="103.6" r="2.3"/><circle cx="179.1" cy="103.9" r="2.3"/><circle cx="182.0" cy="103.6" r="2.3"/><circle cx="185.3" cy="103.7" r="2.3"/><circle cx="188.5" cy="102.9" r="2.3"/><circle cx="174.7" cy="105.7" r="2.3"/><circle cx="180.7" cy="105.6" r="2.3"/><circle cx="184.2" cy="106.0" r="2.3"/><circle cx="186.3" cy="105.9" r="2.3"/><circle cx="192.7" cy="106.4" r="2.3"/><circle cx="177.0" cy="119.2" r="2.3"/><circle cx="179.5" cy="118.6" r="2.3"/><circle cx="182.1" cy="118.5" r="2.3"/><circle cx="185.1" cy="118.6" r="2.3"/><circle cx="188.7" cy="119.1" r="2.3"/><circle cx="191.0" cy="118.9" r="2.3"/><circle cx="137.1" cy="120.9" r="2.3"/><circle cx="140.2" cy="121.0" r="2.3"/><circle cx="142.9" cy="121.6" r="2.3"/><circle cx="146.2" cy="121.5" r="2.3"/><circle cx="149.4" cy="121.2" r="2.3"/><circle cx="172.2" cy="120.9" r="2.3"/><circle cx="175.4" cy="121.3" r="2.3"/><circle cx="178.5" cy="121.1" r="2.3"/><circle cx="181.0" cy="121.1" r="2.3"/><circle cx="183.4" cy="121.2" r="2.3"/><circle cx="186.9" cy="121.6" r="2.3"/><circle cx="138.7" cy="123.6" r="2.3"/><circle cx="141.8" cy="123.8" r="2.3"/><circle cx="144.7" cy="123.8" r="2.3"/><circle cx="147.1" cy="123.6" r="2.3"/><circle cx="150.1" cy="124.1" r="2.3"/><circle cx="174.0" cy="124.3" r="2.3"/><circle cx="176.1" cy="123.6" r="2.3"/><circle cx="179.2" cy="124.2" r="2.3"/><circle cx="181.9" cy="123.5" r="2.3"/><circle cx="185.6" cy="123.3" r="2.3"/><circle cx="188.3" cy="124.0" r="2.3"/><circle cx="190.9" cy="123.9" r="2.3"/><circle cx="137.3" cy="126.1" r="2.3"/><circle cx="140.6" cy="126.0" r="2.3"/><circle cx="143.4" cy="126.8" r="2.3"/><circle cx="146.2" cy="126.1" r="2.3"/><circle cx="149.6" cy="126.5" r="2.3"/><circle cx="152.1" cy="126.8" r="2.3"/><circle cx="172.8" cy="126.4" r="2.3"/><circle cx="175.0" cy="126.5" r="2.3"/><circle cx="178.0" cy="126.7" r="2.3"/><circle cx="181.3" cy="126.4" r="2.3"/><circle cx="183.5" cy="126.5" r="2.3"/><circle cx="186.7" cy="126.8" r="2.3"/><circle cx="190.2" cy="126.6" r="2.3"/><circle cx="174.0" cy="138.8" r="2.3"/><circle cx="176.1" cy="138.8" r="2.3"/><circle cx="179.1" cy="138.7" r="2.3"/><circle cx="175.1" cy="141.9" r="2.3"/><circle cx="180.7" cy="141.4" r="2.3"/><circle cx="174.2" cy="144.6" r="2.3"/><circle cx="176.5" cy="144.4" r="2.3"/><circle cx="179.6" cy="144.3" r="2.3"/><circle cx="169.0" cy="146.6" r="2.3"/><circle cx="172.3" cy="146.6" r="2.3"/><circle cx="175.4" cy="146.4" r="2.3"/><circle cx="177.5" cy="147.1" r="2.3"/><circle cx="168.2" cy="149.0" r="2.3"/><circle cx="170.5" cy="149.4" r="2.3"/><circle cx="173.3" cy="148.9" r="2.3"/><circle cx="176.9" cy="148.9" r="2.3"/><circle cx="179.8" cy="149.7" r="2.3"/><circle cx="175.0" cy="172.6" r="2.3"/><circle cx="177.7" cy="172.5" r="2.3"/><circle cx="181.4" cy="172.1" r="2.3"/><circle cx="183.7" cy="171.8" r="2.3"/><circle cx="186.7" cy="172.5" r="2.3"/><circle cx="192.6" cy="172.2" r="2.3"/><circle cx="176.9" cy="175.0" r="2.3"/><circle cx="179.1" cy="175.0" r="2.3"/><circle cx="182.2" cy="175.2" r="2.3"/><circle cx="185.8" cy="174.7" r="2.3"/><circle cx="188.5" cy="175.0" r="2.3"/><circle cx="190.6" cy="175.1" r="2.3"/><circle cx="194.3" cy="175.1" r="2.3"/><circle cx="175.6" cy="177.6" r="2.3"/><circle cx="178.2" cy="177.4" r="2.3"/><circle cx="181.4" cy="177.2" r="2.3"/><circle cx="184.3" cy="177.2" r="2.3"/><circle cx="187.2" cy="176.9" r="2.3"/><circle cx="189.9" cy="177.1" r="2.3"/><circle cx="192.5" cy="177.4" r="2.3"/><circle cx="176.8" cy="179.7" r="2.3"/><circle cx="179.2" cy="180.2" r="2.3"/><circle cx="182.0" cy="180.2" r="2.3"/><circle cx="185.7" cy="179.9" r="2.3"/><circle cx="188.5" cy="179.5" r="2.3"/><circle cx="190.8" cy="180.1" r="2.3"/><circle cx="194.4" cy="180.4" r="2.3"/><circle cx="181.9" cy="205.7" r="2.3"/><circle cx="185.3" cy="205.4" r="2.3"/><circle cx="188.4" cy="205.5" r="2.3"/><circle cx="177.6" cy="207.7" r="2.3"/><circle cx="181.2" cy="208.2" r="2.3"/><circle cx="183.7" cy="207.9" r="2.3"/><circle cx="186.5" cy="208.1" r="2.3"/><circle cx="176.6" cy="210.9" r="2.3"/><circle cx="182.4" cy="210.5" r="2.3"/><circle cx="185.3" cy="210.6" r="2.3"/><circle cx="188.3" cy="210.5" r="2.3"/><circle cx="169.5" cy="217.7" r="2.3"/><circle cx="172.7" cy="217.9" r="2.3"/><circle cx="178.5" cy="218.3" r="2.3"/><circle cx="183.7" cy="218.0" r="2.3"/><circle cx="170.6" cy="221.2" r="2.3"/><circle cx="173.9" cy="220.3" r="2.3"/><circle cx="176.7" cy="221.2" r="2.3"/><circle cx="179.8" cy="220.5" r="2.3"/><circle cx="182.1" cy="220.6" r="2.3"/><circle cx="169.8" cy="223.7" r="2.3"/><circle cx="172.7" cy="223.7" r="2.3"/><circle cx="174.8" cy="223.0" r="2.3"/><circle cx="180.9" cy="223.1" r="2.3"/><circle cx="184.2" cy="223.1" r="2.3"/><circle cx="43.4" cy="14.5" r="2.3"/><circle cx="121.0" cy="11.5" r="2.3"/><circle cx="124.5" cy="15.5" r="2.3"/><circle cx="126.0" cy="11.8" r="2.3"/><circle cx="95.9" cy="17.2" r="2.3"/><circle cx="148.6" cy="23.3" r="2.3"/><circle cx="153.7" cy="25.6" r="2.3"/><circle cx="65.9" cy="35.6" r="2.3"/><circle cx="98.6" cy="39.7" r="2.3"/><circle cx="107.8" cy="39.3" r="2.3"/><circle cx="109.9" cy="41.3" r="2.3"/><circle cx="118.1" cy="39.5" r="2.3"/><circle cx="72.4" cy="44.8" r="2.3"/><circle cx="88.3" cy="50.7" r="2.3"/><circle cx="103.7" cy="49.3" r="2.3"/><circle cx="120.2" cy="44.6" r="2.3"/><circle cx="121.3" cy="50.5" r="2.3"/><circle cx="129.0" cy="50.3" r="2.3"/><circle cx="118.7" cy="14.3" r="2.3"/><circle cx="123.0" cy="13.1" r="2.3"/><circle cx="122.4" cy="18.6" r="2.3"/><circle cx="128.0" cy="16.8" r="2.3"/><circle cx="129.9" cy="20.5" r="2.3"/><circle cx="119.9" cy="44.7" r="2.3"/><circle cx="126.1" cy="41.0" r="2.3"/><circle cx="128.6" cy="50.9" r="2.3"/><circle cx="131.7" cy="46.6" r="2.3"/><circle cx="136.7" cy="49.0" r="2.3"/><circle cx="130.5" cy="55.9" r="2.3"/><circle cx="143.5" cy="58.4" r="2.3"/><circle cx="126.7" cy="68.0" r="2.3"/><circle cx="139.8" cy="67.7" r="2.3"/><circle cx="144.7" cy="66.7" r="2.3"/><circle cx="110.6" cy="55.2" r="2.3"/><circle cx="110.6" cy="41.0" r="2.3"/><circle cx="142.9" cy="79.4" r="2.3"/><circle cx="151.6" cy="30.4" r="2.3"/><circle cx="195.0" cy="17.2" r="2.3"/><circle cx="199.5" cy="24.8" r="2.3"/><circle cx="205.6" cy="23.5" r="2.3"/><circle cx="210.2" cy="28.4" r="2.3"/><circle cx="192.8" cy="35.2" r="2.3"/><circle cx="197.1" cy="34.7" r="2.3"/><circle cx="205.2" cy="35.0" r="2.3"/><circle cx="194.8" cy="39.9" r="2.3"/><circle cx="220.4" cy="38.9" r="2.3"/><circle cx="227.3" cy="44.2" r="2.3"/><circle cx="110.8" cy="55.6" r="2.3"/><circle cx="130.4" cy="56.3" r="2.3"/><circle cx="126.8" cy="68.3" r="2.3"/><circle cx="140.0" cy="68.0" r="2.3"/><circle cx="144.8" cy="67.3" r="2.3"/><circle cx="143.3" cy="80.6" r="2.3"/><circle cx="85.0" cy="97.8" r="2.3"/><circle cx="100.8" cy="98.4" r="2.3"/><circle cx="104.5" cy="99.0" r="2.3"/><circle cx="122.9" cy="98.7" r="2.3"/><circle cx="135.6" cy="97.8" r="2.3"/><circle cx="138.5" cy="99.6" r="2.3"/><circle cx="120.3" cy="101.5" r="2.3"/><circle cx="125.1" cy="103.8" r="2.3"/><circle cx="129.6" cy="101.3" r="2.3"/><circle cx="141.8" cy="101.0" r="2.3"/><circle cx="141.8" cy="105.0" r="2.3"/><circle cx="129.2" cy="109.5" r="2.3"/><circle cx="89.4" cy="109.6" r="2.3"/><circle cx="176.0" cy="55.6" r="2.3"/><circle cx="178.7" cy="58.5" r="2.3"/><circle cx="183.0" cy="60.0" r="2.3"/><circle cx="192.0" cy="55.8" r="2.3"/><circle cx="190.0" cy="58.3" r="2.3"/><circle cx="194.5" cy="65.9" r="2.3"/><circle cx="198.8" cy="69.7" r="2.3"/><circle cx="184.6" cy="81.2" r="2.3"/><circle cx="187.0" cy="79.7" r="2.3"/><circle cx="167.5" cy="87.7" r="2.3"/><circle cx="169.5" cy="90.5" r="2.3"/><circle cx="183.0" cy="89.0" r="2.3"/><circle cx="168.5" cy="97.8" r="2.3"/><circle cx="173.8" cy="98.6" r="2.3"/><circle cx="177.0" cy="98.4" r="2.3"/><circle cx="182.0" cy="98.6" r="2.3"/><circle cx="197.9" cy="94.3" r="2.3"/><circle cx="201.0" cy="98.0" r="2.3"/><circle cx="44.8" cy="103.5" r="2.3"/><circle cx="78.7" cy="104.1" r="2.3"/><circle cx="120.0" cy="102.0" r="2.3"/><circle cx="124.9" cy="103.7" r="2.3"/><circle cx="129.7" cy="101.8" r="2.3"/><circle cx="141.7" cy="100.8" r="2.3"/><circle cx="141.7" cy="104.9" r="2.3"/><circle cx="128.6" cy="109.7" r="2.3"/><circle cx="129.0" cy="115.3" r="2.3"/><circle cx="134.3" cy="116.0" r="2.3"/><circle cx="145.0" cy="116.3" r="2.3"/><circle cx="149.5" cy="111.6" r="2.3"/><circle cx="149.5" cy="115.0" r="2.3"/><circle cx="119.4" cy="121.0" r="2.3"/><circle cx="128.4" cy="120.8" r="2.3"/><circle cx="132.0" cy="122.1" r="2.3"/><circle cx="152.6" cy="124.9" r="2.3"/><circle cx="148.6" cy="132.3" r="2.3"/><circle cx="98.0" cy="144.7" r="2.3"/><circle cx="141.5" cy="145.2" r="2.3"/><circle cx="141.0" cy="141.5" r="2.3"/><circle cx="153.6" cy="142.9" r="2.3"/><circle cx="135.5" cy="145.0" r="2.3"/><circle cx="149.5" cy="145.6" r="2.3"/><circle cx="198.5" cy="116.3" r="2.3"/><circle cx="190.7" cy="110.8" r="2.3"/><circle cx="172.0" cy="112.3" r="2.3"/><circle cx="177.0" cy="109.8" r="2.3"/><circle cx="183.6" cy="113.1" r="2.3"/><circle cx="176.8" cy="114.7" r="2.3"/><circle cx="166.0" cy="119.6" r="2.3"/><circle cx="169.5" cy="119.2" r="2.3"/><circle cx="196.7" cy="124.3" r="2.3"/><circle cx="264.8" cy="115.0" r="2.3"/><circle cx="174.0" cy="132.5" r="2.3"/><circle cx="192.8" cy="141.0" r="2.3"/><circle cx="186.0" cy="144.3" r="2.3"/><circle cx="195.2" cy="142.7" r="2.3"/><circle cx="155.6" cy="143.0" r="2.3"/><circle cx="112.8" cy="148.2" r="2.3"/><circle cx="120.4" cy="148.7" r="2.3"/><circle cx="137.4" cy="147.6" r="2.3"/><circle cx="148.6" cy="147.0" r="2.3"/><circle cx="153.4" cy="147.4" r="2.3"/><circle cx="98.0" cy="146.0" r="2.3"/><circle cx="105.5" cy="168.2" r="2.3"/><circle cx="123.7" cy="162.6" r="2.3"/><circle cx="130.7" cy="163.8" r="2.3"/><circle cx="80.6" cy="177.3" r="2.3"/><circle cx="85.3" cy="174.4" r="2.3"/><circle cx="120.0" cy="175.6" r="2.3"/><circle cx="127.5" cy="176.3" r="2.3"/><circle cx="135.6" cy="178.7" r="2.3"/><circle cx="138.5" cy="173.7" r="2.3"/><circle cx="139.7" cy="172.5" r="2.3"/><circle cx="144.0" cy="180.5" r="2.3"/><circle cx="102.2" cy="187.4" r="2.3"/><circle cx="107.7" cy="191.4" r="2.3"/><circle cx="120.4" cy="190.0" r="2.3"/><circle cx="137.6" cy="185.7" r="2.3"/><circle cx="136.0" cy="190.0" r="2.3"/><circle cx="140.0" cy="190.5" r="2.3"/><circle cx="147.2" cy="185.9" r="2.3"/><circle cx="150.3" cy="186.5" r="2.3"/><circle cx="195.5" cy="147.8" r="2.3"/><circle cx="209.7" cy="148.0" r="2.3"/><circle cx="189.5" cy="158.0" r="2.3"/><circle cx="180.6" cy="161.5" r="2.3"/><circle cx="180.6" cy="167.3" r="2.3"/><circle cx="185.2" cy="168.7" r="2.3"/><circle cx="177.6" cy="169.9" r="2.3"/><circle cx="176.5" cy="183.6" r="2.3"/><circle cx="169.0" cy="187.3" r="2.3"/><circle cx="172.0" cy="190.5" r="2.3"/><circle cx="175.8" cy="189.0" r="2.3"/><circle cx="180.6" cy="189.5" r="2.3"/><circle cx="186.7" cy="189.5" r="2.3"/><circle cx="190.2" cy="183.6" r="2.3"/><circle cx="193.6" cy="191.3" r="2.3"/><circle cx="203.2" cy="183.6" r="2.3"/><circle cx="209.7" cy="183.6" r="2.3"/><circle cx="230.0" cy="167.9" r="2.3"/><circle cx="262.9" cy="153.8" r="2.3"/><circle cx="233.3" cy="191.0" r="2.3"/><circle cx="107.7" cy="192.4" r="2.3"/><circle cx="150.0" cy="198.0" r="2.3"/><circle cx="114.3" cy="205.2" r="2.3"/><circle cx="134.9" cy="205.9" r="2.3"/><circle cx="141.3" cy="206.9" r="2.3"/><circle cx="143.5" cy="205.1" r="2.3"/><circle cx="136.8" cy="212.4" r="2.3"/><circle cx="143.7" cy="215.7" r="2.3"/><circle cx="149.0" cy="212.6" r="2.3"/><circle cx="153.0" cy="211.4" r="2.3"/><circle cx="110.0" cy="222.9" r="2.3"/><circle cx="120.4" cy="222.1" r="2.3"/><circle cx="147.2" cy="218.4" r="2.3"/><circle cx="152.8" cy="218.6" r="2.3"/><circle cx="157.3" cy="221.6" r="2.3"/><circle cx="146.5" cy="216.4" r="2.3"/><circle cx="170.3" cy="198.3" r="2.3"/><circle cx="173.0" cy="200.0" r="2.3"/><circle cx="198.8" cy="205.7" r="2.3"/><circle cx="204.2" cy="209.6" r="2.3"/><circle cx="204.2" cy="211.6" r="2.3"/><circle cx="229.0" cy="211.6" r="2.3"/><circle cx="202.2" cy="218.6" r="2.3"/><circle cx="209.1" cy="219.0" r="2.3"/><circle cx="218.5" cy="222.7" r="2.3"/><circle cx="188.9" cy="216.6" r="2.3"/><circle cx="157.0" cy="221.4" r="2.3"/><circle cx="193.6" cy="192.6" r="2.3"/><circle cx="233.1" cy="192.6" r="2.3"/><circle cx="143.7" cy="259.1" r="2.3"/><circle cx="119.6" cy="272.1" r="2.3"/><circle cx="145.8" cy="271.5" r="2.3"/><circle cx="146.1" cy="276.4" r="2.3"/><circle cx="156.8" cy="274.8" r="2.3"/><circle cx="167.5" cy="251.3" r="2.3"/><circle cx="169.3" cy="252.0" r="2.3"/><circle cx="178.5" cy="251.0" r="2.3"/><circle cx="183.0" cy="255.2" r="2.3"/><circle cx="179.3" cy="260.6" r="2.3"/><circle cx="187.3" cy="263.3" r="2.3"/><circle cx="156.8" cy="275.0" r="2.3"/><circle cx="213.0" cy="277.0" r="2.3"/></g></g>
<rect x="18.7" y="278.7" width="285.3" height="2" fill="#000"/>
<text x="31.2" y="286.6" font-size="7.34" fill="#555" text-anchor="middle" dominant-baseline="central" textLength="14.05" lengthAdjust="spacingAndGlyphs">-5.0</text>
<text x="96.1" y="286.6" font-size="7.34" fill="#555" text-anchor="middle" dominant-baseline="central" textLength="14.05" lengthAdjust="spacingAndGlyphs">-2.5</text>
<text x="161.0" y="286.6" font-size="7.34" fill="#555" text-anchor="middle" dominant-baseline="central" textLength="11.45" lengthAdjust="spacingAndGlyphs">0.0</text>
<text x="225.9" y="286.6" font-size="7.34" fill="#555" text-anchor="middle" dominant-baseline="central" textLength="11.45" lengthAdjust="spacingAndGlyphs">2.5</text>
<text x="290.8" y="286.6" font-size="7.34" fill="#555" text-anchor="middle" dominant-baseline="central" textLength="11.45" lengthAdjust="spacingAndGlyphs">5.0</text>
<text x="161.8" y="296.4" font-size="9.03" fill="#222" text-anchor="middle" dominant-baseline="central" textLength="26.04" lengthAdjust="spacingAndGlyphs">Beta1</text>
<rect x="410.4" y="10.90" width="260.3" height="9.9" fill="#9a87c4"/>
<text x="347.3" y="15.9" font-size="7.44" fill="#1a1a1a" text-anchor="middle" dominant-baseline="central" textLength="18.81" lengthAdjust="spacingAndGlyphs">gCap</text>
<rect x="410.4" y="21.65" width="236.0" height="9.9" fill="#6cc44e"/>
<text x="347.3" y="26.6" font-size="7.44" fill="#1a1a1a" text-anchor="middle" dominant-baseline="central" textLength="13.51" lengthAdjust="spacingAndGlyphs">AT2</text>
<rect x="410.4" y="32.40" width="209.0" height="9.9" fill="#5bc883"/>
<text x="347.3" y="37.4" font-size="7.44" fill="#1a1a1a" text-anchor="middle" dominant-baseline="central" textLength="16.01" lengthAdjust="spacingAndGlyphs">SMC</text>
<rect x="410.4" y="43.15" width="170.1" height="9.9" fill="#c69a3c"/>
<text x="347.3" y="48.1" font-size="7.44" fill="#1a1a1a" text-anchor="middle" dominant-baseline="central" textLength="32.31" lengthAdjust="spacingAndGlyphs">Aerocyte</text>
<rect x="410.4" y="53.90" width="166.3" height="9.9" fill="#d98c3a"/>
<text x="347.3" y="58.9" font-size="7.44" fill="#1a1a1a" text-anchor="middle" dominant-baseline="central" textLength="17.41" lengthAdjust="spacingAndGlyphs">Mast</text>
<rect x="410.4" y="64.65" width="144.4" height="9.9" fill="#5ccdb7"/>
<text x="347.3" y="69.6" font-size="7.44" fill="#1a1a1a" text-anchor="middle" dominant-baseline="central" textLength="16.36" lengthAdjust="spacingAndGlyphs">Club</text>
<rect x="410.4" y="75.40" width="138.2" height="9.9" fill="#b09e3a"/>
<text x="347.3" y="80.4" font-size="7.44" fill="#1a1a1a" text-anchor="middle" dominant-baseline="central" textLength="27.61" lengthAdjust="spacingAndGlyphs">Ciliated</text>
<rect x="410.4" y="86.15" width="133.7" height="9.9" fill="#8cb845"/>
<text x="347.3" y="91.1" font-size="7.44" fill="#1a1a1a" text-anchor="middle" dominant-baseline="central" textLength="37.42" lengthAdjust="spacingAndGlyphs">Lymphatic</text>
<rect x="410.4" y="96.90" width="133.4" height="9.9" fill="#4ec85a"/>
<text x="347.3" y="101.9" font-size="7.44" fill="#1a1a1a" text-anchor="middle" dominant-baseline="central" textLength="26.40" lengthAdjust="spacingAndGlyphs">Venous</text>
<rect x="410.4" y="107.65" width="131.7" height="9.9" fill="#52c466"/>
<text x="347.3" y="112.6" font-size="7.44" fill="#1a1a1a" text-anchor="middle" dominant-baseline="central" textLength="76.87" lengthAdjust="spacingAndGlyphs">Adventitial Fibroblast</text>
<rect x="410.4" y="118.40" width="130.5" height="9.9" fill="#60c0d8"/>
<text x="347.3" y="123.4" font-size="7.44" fill="#1a1a1a" text-anchor="middle" dominant-baseline="central" textLength="47.33" lengthAdjust="spacingAndGlyphs">Peribronchial</text>
<rect x="410.4" y="129.15" width="130.4" height="9.9" fill="#62acd0"/>
<text x="347.3" y="134.1" font-size="7.44" fill="#1a1a1a" text-anchor="middle" dominant-baseline="central" textLength="60.29" lengthAdjust="spacingAndGlyphs">Alv. Macrophage</text>
<rect x="410.4" y="139.90" width="129.4" height="9.9" fill="#5ecccc"/>
<text x="347.3" y="144.8" font-size="7.44" fill="#1a1a1a" text-anchor="middle" dominant-baseline="central" textLength="49.36" lengthAdjust="spacingAndGlyphs">Myofibroblast</text>
<rect x="410.4" y="150.65" width="119.4" height="9.9" fill="#e866a8"/>
<text x="347.3" y="155.6" font-size="7.44" fill="#1a1a1a" text-anchor="middle" dominant-baseline="central" textLength="5.00" lengthAdjust="spacingAndGlyphs">B</text>
<rect x="410.4" y="161.40" width="114.5" height="9.9" fill="#e068ac"/>
<text x="347.3" y="166.3" font-size="7.44" fill="#1a1a1a" text-anchor="middle" dominant-baseline="central" textLength="26.84" lengthAdjust="spacingAndGlyphs">Arterial</text>
<rect x="410.4" y="172.15" width="110.9" height="9.9" fill="#5ccca0"/>
<text x="347.3" y="177.1" font-size="7.44" fill="#1a1a1a" text-anchor="middle" dominant-baseline="central" textLength="19.76" lengthAdjust="spacingAndGlyphs">Basal</text>
<rect x="410.4" y="182.90" width="103.3" height="9.9" fill="#c86cb8"/>
<text x="347.3" y="187.8" font-size="7.44" fill="#1a1a1a" text-anchor="middle" dominant-baseline="central" textLength="50.78" lengthAdjust="spacingAndGlyphs">Alv. Fibroblast</text>
<rect x="410.4" y="193.65" width="99.6" height="9.9" fill="#7f90cc"/>
<text x="347.3" y="198.6" font-size="7.44" fill="#1a1a1a" text-anchor="middle" dominant-baseline="central" textLength="4.45" lengthAdjust="spacingAndGlyphs">T</text>
<rect x="410.4" y="204.40" width="93.5" height="9.9" fill="#9caa44"/>
<text x="347.3" y="209.3" font-size="7.44" fill="#1a1a1a" text-anchor="middle" dominant-baseline="central" textLength="29.31" lengthAdjust="spacingAndGlyphs">Pericyte</text>
<rect x="410.4" y="215.15" width="92.5" height="9.9" fill="#e47e44"/>
<text x="347.3" y="220.1" font-size="7.44" fill="#1a1a1a" text-anchor="middle" dominant-baseline="central" textLength="13.51" lengthAdjust="spacingAndGlyphs">AT1</text>
<rect x="410.4" y="225.90" width="84.5" height="9.9" fill="#e86896"/>
<text x="347.3" y="230.8" font-size="7.44" fill="#1a1a1a" text-anchor="middle" dominant-baseline="central" textLength="35.50" lengthAdjust="spacingAndGlyphs">Monocyte</text>
<rect x="410.4" y="236.65" width="73.4" height="9.9" fill="#e86c6c"/>
<text x="347.3" y="241.6" font-size="7.44" fill="#1a1a1a" text-anchor="middle" dominant-baseline="central" textLength="44.89" lengthAdjust="spacingAndGlyphs">Macrophage</text>
<rect x="410.4" y="247.40" width="72.4" height="9.9" fill="#a87cc0"/>
<text x="347.3" y="252.3" font-size="7.44" fill="#1a1a1a" text-anchor="middle" dominant-baseline="central" textLength="10.70" lengthAdjust="spacingAndGlyphs">DC</text>
<rect x="410.4" y="258.15" width="70.3" height="9.9" fill="#60a0cc"/>
<text x="347.3" y="263.1" font-size="7.44" fill="#1a1a1a" text-anchor="middle" dominant-baseline="central" textLength="10.23" lengthAdjust="spacingAndGlyphs">NK</text>
<rect x="410.4" y="268.90" width="66.6" height="9.9" fill="#b878bc"/>
<text x="347.3" y="273.8" font-size="7.44" fill="#1a1a1a" text-anchor="middle" dominant-baseline="central" textLength="24.11" lengthAdjust="spacingAndGlyphs">Goblet</text>
<rect x="397.3" y="278.9" width="286.4" height="2" fill="#000"/>
<text x="410.4" y="286.6" font-size="7.34" fill="#555" text-anchor="middle" dominant-baseline="central" textLength="4.58" lengthAdjust="spacingAndGlyphs">0</text>
<text x="470.9" y="286.6" font-size="7.34" fill="#555" text-anchor="middle" dominant-baseline="central" textLength="4.58" lengthAdjust="spacingAndGlyphs">5</text>
<text x="531.4" y="286.6" font-size="7.34" fill="#555" text-anchor="middle" dominant-baseline="central" textLength="9.16" lengthAdjust="spacingAndGlyphs">10</text>
<text x="591.9" y="286.6" font-size="7.34" fill="#555" text-anchor="middle" dominant-baseline="central" textLength="9.16" lengthAdjust="spacingAndGlyphs">15</text>
<text x="652.4" y="286.6" font-size="7.34" fill="#555" text-anchor="middle" dominant-baseline="central" textLength="9.16" lengthAdjust="spacingAndGlyphs">20</text>
<text x="540.2" y="297.1" font-size="9.25" fill="#222" text-anchor="middle" dominant-baseline="central" textLength="150.92" lengthAdjust="spacingAndGlyphs">% Differentially Expressed Genes</text>
<text x="1.2" y="322.6" font-size="15" font-weight="bold" fill="#000">B.</text>
<rect x="41" y="319" width="1.9" height="271" fill="#111"/>
<rect x="41" y="588.2" width="303" height="1.8" fill="#111"/>
<text x="37.6" y="589.6" font-size="7.34" fill="#444" text-anchor="end" dominant-baseline="central" textLength="4.58" lengthAdjust="spacingAndGlyphs">0</text>
<text x="37.6" y="522.0" font-size="7.34" fill="#444" text-anchor="end" dominant-baseline="central" textLength="4.58" lengthAdjust="spacingAndGlyphs">3</text>
<text x="37.6" y="454.3" font-size="7.34" fill="#444" text-anchor="end" dominant-baseline="central" textLength="4.58" lengthAdjust="spacingAndGlyphs">6</text>
<text x="37.6" y="386.6" font-size="7.34" fill="#444" text-anchor="end" dominant-baseline="central" textLength="4.58" lengthAdjust="spacingAndGlyphs">9</text>
<text x="37.6" y="319.0" font-size="7.34" fill="#444" text-anchor="end" dominant-baseline="central" textLength="9.16" lengthAdjust="spacingAndGlyphs">12</text>
<text x="42.0" y="596.6" font-size="7.34" fill="#444" text-anchor="middle" dominant-baseline="central" textLength="4.58" lengthAdjust="spacingAndGlyphs">0</text>
<text x="92.3" y="596.6" font-size="7.34" fill="#444" text-anchor="middle" dominant-baseline="central" textLength="4.58" lengthAdjust="spacingAndGlyphs">1</text>
<text x="142.7" y="596.6" font-size="7.34" fill="#444" text-anchor="middle" dominant-baseline="central" textLength="4.58" lengthAdjust="spacingAndGlyphs">2</text>
<text x="193.1" y="596.6" font-size="7.34" fill="#444" text-anchor="middle" dominant-baseline="central" textLength="4.58" lengthAdjust="spacingAndGlyphs">3</text>
<text x="243.4" y="596.6" font-size="7.34" fill="#444" text-anchor="middle" dominant-baseline="central" textLength="4.58" lengthAdjust="spacingAndGlyphs">4</text>
<text x="293.8" y="596.6" font-size="7.34" fill="#444" text-anchor="middle" dominant-baseline="central" textLength="4.58" lengthAdjust="spacingAndGlyphs">5</text>
<text x="344.1" y="596.6" font-size="7.34" fill="#444" text-anchor="middle" dominant-baseline="central" textLength="4.58" lengthAdjust="spacingAndGlyphs">6</text>
<text x="193.2" y="606.5" font-size="9.28" fill="#222" text-anchor="middle" dominant-baseline="central" textLength="71.43" lengthAdjust="spacingAndGlyphs">log Module Size</text>
<text x="21.8" y="454.4" font-size="9.08" fill="#222" text-anchor="middle" dominant-baseline="central" textLength="67.98" lengthAdjust="spacingAndGlyphs" transform="rotate(-90 21.8 454.4)">-log10(p-value)</text>
<defs><linearGradient id="cb" x1="0" y1="0" x2="0" y2="1"><stop offset="0" stop-color="#e3ee64"/><stop offset="0.16" stop-color="#d8dc78"/><stop offset="0.41" stop-color="#c2c2c0"/><stop offset="0.66" stop-color="#b07ec8"/><stop offset="1" stop-color="#7a44a6"/></linearGradient></defs>
<rect x="264.7" y="387.9" width="14.1" height="71.6" fill="url(#cb)"/>
<rect x="264.7" y="398.8" width="2" height="0.8" fill="#fff" opacity="0.7"/><rect x="276.8" y="398.8" width="2" height="0.8" fill="#fff" opacity="0.7"/>
<text x="283.4" y="399.2" font-size="7.55" fill="#333" text-anchor="start" dominant-baseline="central" textLength="4.71" lengthAdjust="spacingAndGlyphs">5</text>
<rect x="264.7" y="416.8" width="2" height="0.8" fill="#fff" opacity="0.7"/><rect x="276.8" y="416.8" width="2" height="0.8" fill="#fff" opacity="0.7"/>
<text x="283.4" y="417.2" font-size="7.55" fill="#333" text-anchor="start" dominant-baseline="central" textLength="4.71" lengthAdjust="spacingAndGlyphs">0</text>
<rect x="264.7" y="434.8" width="2" height="0.8" fill="#fff" opacity="0.7"/><rect x="276.8" y="434.8" width="2" height="0.8" fill="#fff" opacity="0.7"/>
<text x="283.4" y="435.2" font-size="7.55" fill="#333" text-anchor="start" dominant-baseline="central" textLength="7.38" lengthAdjust="spacingAndGlyphs">-5</text>
<rect x="264.7" y="452.8" width="2" height="0.8" fill="#fff" opacity="0.7"/><rect x="276.8" y="452.8" width="2" height="0.8" fill="#fff" opacity="0.7"/>
<text x="283.4" y="453.2" font-size="7.55" fill="#333" text-anchor="start" dominant-baseline="central" textLength="12.09" lengthAdjust="spacingAndGlyphs">-10</text>
<text x="264.7" y="379.6" font-size="9.04" fill="#222" text-anchor="start" dominant-baseline="central" textLength="53.61" lengthAdjust="spacingAndGlyphs">Significance</text>
<text x="265.0" y="482.1" font-size="9.08" fill="#222" text-anchor="start" dominant-baseline="central" textLength="67.98" lengthAdjust="spacingAndGlyphs">-log10(p-value)</text>
<circle cx="271.6" cy="497.3" r="3.5" fill="#000"/>
<text x="283.4" y="497.3" font-size="7.75" fill="#333" text-anchor="start" dominant-baseline="central" textLength="4.84" lengthAdjust="spacingAndGlyphs">3</text>
<circle cx="271.6" cy="511.6" r="4.5" fill="#000"/>
<text x="283.4" y="511.6" font-size="7.75" fill="#333" text-anchor="start" dominant-baseline="central" textLength="4.84" lengthAdjust="spacingAndGlyphs">6</text>
<circle cx="271.6" cy="525.9" r="5.1" fill="#000"/>
<text x="283.4" y="525.9" font-size="7.75" fill="#333" text-anchor="start" dominant-baseline="central" textLength="4.84" lengthAdjust="spacingAndGlyphs">9</text>
<g fill="#c6c6c6"><circle cx="117.0" cy="579.8" r="1.8"/><circle cx="125.5" cy="578.6" r="1.8"/><circle cx="130.2" cy="581.0" r="1.8"/><circle cx="134.5" cy="583.0" r="1.8"/><circle cx="145.0" cy="583.0" r="1.8"/><circle cx="149.6" cy="583.3" r="1.8"/><circle cx="154.0" cy="585.6" r="1.8"/><circle cx="162.0" cy="583.3" r="1.8"/><circle cx="164.0" cy="586.3" r="1.8"/><circle cx="168.3" cy="585.6" r="1.8"/><circle cx="171.5" cy="583.7" r="1.8"/><circle cx="175.0" cy="586.5" r="1.8"/><circle cx="180.0" cy="585.6" r="1.8"/><circle cx="213.9" cy="587.0" r="1.8"/><circle cx="117.0" cy="584.9" r="1.8"/><circle cx="119.1" cy="585.2" r="1.8"/><circle cx="121.3" cy="585.9" r="1.8"/><circle cx="123.0" cy="584.3" r="1.8"/><circle cx="125.5" cy="584.9" r="1.8"/><circle cx="127.3" cy="586.8" r="1.8"/><circle cx="129.4" cy="586.4" r="1.8"/><circle cx="131.4" cy="585.9" r="1.8"/><circle cx="133.2" cy="585.9" r="1.8"/><circle cx="135.7" cy="585.6" r="1.8"/><circle cx="138.0" cy="586.0" r="1.8"/><circle cx="139.7" cy="586.2" r="1.8"/><circle cx="141.8" cy="585.1" r="1.8"/><circle cx="143.5" cy="586.5" r="1.8"/><circle cx="145.6" cy="586.1" r="1.8"/><circle cx="148.0" cy="586.1" r="1.8"/><circle cx="150.6" cy="585.3" r="1.8"/><circle cx="132.4" cy="583.8" r="1.8"/><circle cx="144.6" cy="581.7" r="1.8"/><circle cx="123.8" cy="582.0" r="1.8"/><circle cx="147.0" cy="582.6" r="1.8"/><circle cx="137.5" cy="582.3" r="1.8"/><circle cx="134.2" cy="582.5" r="1.8"/><circle cx="129.8" cy="583.0" r="1.8"/><circle cx="136.4" cy="583.8" r="1.8"/></g><circle cx="122.3" cy="578.4" r="2.2" fill="#c4bcd0"/>
<circle cx="153.7" cy="571.2" r="2.3" fill="#c8c8aa"/>
<circle cx="147.4" cy="571.8" r="2.3" fill="#c4b4d2"/>
<circle cx="145.2" cy="574.6" r="2.3" fill="#c8c8aa"/>
<circle cx="128.5" cy="562.3" r="2.8" fill="#cccca0"/>
<circle cx="138.0" cy="564.2" r="2.8" fill="#c0a8d4"/>
<circle cx="163.6" cy="564.2" r="2.8" fill="#c0a8d4"/>
<circle cx="131.3" cy="545.8" r="3.2" fill="#cdcd9c"/>
<circle cx="138.3" cy="547.1" r="3.2" fill="#cdcd9c"/>
<circle cx="142.7" cy="556.0" r="3.2" fill="#bea6d2"/>
<circle cx="170.2" cy="554.1" r="3.2" fill="#cdcd9c"/>
<circle cx="157.5" cy="558.5" r="3.2" fill="#cdcd9c"/>
<circle cx="182.0" cy="539.5" r="3.3" fill="#d0d098"/>
<circle cx="190.3" cy="544.2" r="3.3" fill="#c4a4d6"/>
<circle cx="159.1" cy="522.1" r="3.5" fill="#cfcf9a"/>
<circle cx="165.3" cy="519.9" r="3.5" fill="#cfcf9a"/>
<circle cx="168.3" cy="525.0" r="3.5" fill="#cfcf9a"/>
<circle cx="129.6" cy="510.1" r="3.6" fill="#b487cc"/>
<circle cx="119.4" cy="509.4" r="3.6" fill="#d3d494"/>
<circle cx="126.3" cy="508.2" r="3.6" fill="#d3d494"/>
<circle cx="149.3" cy="510.1" r="3.6" fill="#d3d494"/>
<circle cx="145.5" cy="508.2" r="3.6" fill="#b48ad0"/>
<circle cx="151.8" cy="517.0" r="3.6" fill="#b48ad0"/>
<circle cx="149.6" cy="514.1" r="3.6" fill="#b48ad0"/>
<circle cx="154.4" cy="500.4" r="3.9" fill="#b07cc9"/>
<circle cx="185.3" cy="500.4" r="3.9" fill="#b583cf"/>
<circle cx="162.0" cy="492.3" r="3.9" fill="#b585cc"/>
<circle cx="151.4" cy="476.4" r="4.0" fill="#d6d97e"/>
<circle cx="170.0" cy="476.4" r="4.0" fill="#a066c4"/>
<circle cx="167.0" cy="467.2" r="4.0" fill="#dcdf8c"/>
<circle cx="218.5" cy="458.4" r="4.0" fill="#d9df78"/>
<circle cx="224.6" cy="464.9" r="4.0" fill="#a66cc6"/>
<circle cx="223.2" cy="408.8" r="4.9" fill="#dfeb5e"/>
<circle cx="121.9" cy="402.3" r="4.8" fill="#9b5fc0"/>
<circle cx="199.6" cy="326.3" r="5.6" fill="#7e4aa8"/>
<g stroke="#111" stroke-width="1.1"><line x1="199.6" y1="326.3" x2="206.5" y2="330.0"/><line x1="223.2" y1="408.8" x2="216.3" y2="411.5"/><line x1="213.5" y1="455.8" x2="218.5" y2="458.2"/><line x1="224.6" y1="464.9" x2="231.3" y2="468.0"/><line x1="164.2" y1="460.2" x2="167.0" y2="466.0"/><line x1="173.3" y1="470.3" x2="170.0" y2="476.4"/><line x1="148.7" y1="483.2" x2="151.4" y2="476.4"/><line x1="154.4" y1="500.4" x2="157.8" y2="506.5"/><line x1="185.3" y1="500.4" x2="191.2" y2="503.5"/></g>
<text x="209.3" y="335.0" font-size="9.18" fill="#222" text-anchor="middle" dominant-baseline="central" textLength="5.73" lengthAdjust="spacingAndGlyphs">6</text>
<text x="133.5" y="393.0" font-size="9.18" fill="#222" text-anchor="middle" dominant-baseline="central" textLength="17.18" lengthAdjust="spacingAndGlyphs">107</text>
<text x="213.6" y="417.4" font-size="9.18" fill="#222" text-anchor="middle" dominant-baseline="central" textLength="5.73" lengthAdjust="spacingAndGlyphs">2</text>
<text x="208.5" y="449.6" font-size="9.18" fill="#222" text-anchor="middle" dominant-baseline="central" textLength="5.73" lengthAdjust="spacingAndGlyphs">3</text>
<text x="234.2" y="474.2" font-size="9.18" fill="#222" text-anchor="middle" dominant-baseline="central" textLength="5.73" lengthAdjust="spacingAndGlyphs">1</text>
<text x="156.3" y="457.2" font-size="9.18" fill="#222" text-anchor="middle" dominant-baseline="central" textLength="11.45" lengthAdjust="spacingAndGlyphs">20</text>
<text x="181.2" y="467.2" font-size="9.18" fill="#222" text-anchor="middle" dominant-baseline="central" textLength="11.45" lengthAdjust="spacingAndGlyphs">16</text>
<text x="140.0" y="487.0" font-size="9.18" fill="#222" text-anchor="middle" dominant-baseline="central" textLength="11.45" lengthAdjust="spacingAndGlyphs">35</text>
<text x="175.0" y="487.0" font-size="9.18" fill="#222" text-anchor="middle" dominant-baseline="central" textLength="11.45" lengthAdjust="spacingAndGlyphs">27</text>
<text x="165.6" y="510.0" font-size="9.18" fill="#222" text-anchor="middle" dominant-baseline="central" textLength="11.45" lengthAdjust="spacingAndGlyphs">31</text>
<text x="194.8" y="509.7" font-size="9.18" fill="#222" text-anchor="middle" dominant-baseline="central" textLength="5.73" lengthAdjust="spacingAndGlyphs">8</text>
<text x="343.3" y="322.6" font-size="15" font-weight="bold" fill="#000">C.</text>
<rect x="394.6" y="321.10" width="275.0" height="10.4" fill="#7f4fa5"/>
<text x="377.3" y="326.3" font-size="7.85" fill="#444" text-anchor="end" dominant-baseline="central" textLength="4.90" lengthAdjust="spacingAndGlyphs">6</text>
<text x="669.1" y="326.3" font-size="9.28" fill="#e6dcef" text-anchor="end" dominant-baseline="central" textLength="110.96" lengthAdjust="spacingAndGlyphs">Cholesterol biosynthesis</text>
<rect x="394.6" y="333.29" width="188.8" height="10.4" fill="#e0ec68"/>
<text x="377.3" y="338.5" font-size="7.85" fill="#444" text-anchor="end" dominant-baseline="central" textLength="4.90" lengthAdjust="spacingAndGlyphs">2</text>
<text x="583.7" y="338.5" font-size="9.28" fill="#222" text-anchor="start" dominant-baseline="central" textLength="88.87" lengthAdjust="spacingAndGlyphs">Signal Transduction</text>
<rect x="394.6" y="345.48" width="136.6" height="10.4" fill="#dadd86"/>
<text x="377.3" y="350.7" font-size="7.85" fill="#444" text-anchor="end" dominant-baseline="central" textLength="4.90" lengthAdjust="spacingAndGlyphs">3</text>
<text x="531.5" y="350.7" font-size="9.28" fill="#222" text-anchor="start" dominant-baseline="central" textLength="67.33" lengthAdjust="spacingAndGlyphs">Ca2+ pathway</text>
<rect x="394.6" y="357.67" width="130.3" height="10.4" fill="#a87cc0"/>
<text x="377.3" y="362.9" font-size="7.85" fill="#444" text-anchor="end" dominant-baseline="central" textLength="4.90" lengthAdjust="spacingAndGlyphs">1</text>
<text x="525.2" y="362.9" font-size="9.28" fill="#222" text-anchor="start" dominant-baseline="central" textLength="156.75" lengthAdjust="spacingAndGlyphs">TCA cycle and respiratory electron</text>
<rect x="394.6" y="369.86" width="128.1" height="10.4" fill="#d9dc86"/>
<text x="377.3" y="375.1" font-size="7.85" fill="#444" text-anchor="end" dominant-baseline="central" textLength="9.80" lengthAdjust="spacingAndGlyphs">20</text>
<text x="523.0" y="375.1" font-size="9.28" fill="#222" text-anchor="start" dominant-baseline="central" textLength="149.32" lengthAdjust="spacingAndGlyphs">Extracellular matrix organization</text>
<rect x="394.6" y="382.05" width="118.3" height="10.4" fill="#d8db88"/>
<text x="377.3" y="387.2" font-size="7.85" fill="#444" text-anchor="end" dominant-baseline="central" textLength="9.80" lengthAdjust="spacingAndGlyphs">35</text>
<text x="513.2" y="387.2" font-size="9.28" fill="#222" text-anchor="start" dominant-baseline="central" textLength="86.04" lengthAdjust="spacingAndGlyphs">Muscle contraction</text>
<rect x="394.6" y="394.24" width="118.3" height="10.4" fill="#a87cc0"/>
<text x="377.3" y="399.4" font-size="7.85" fill="#444" text-anchor="end" dominant-baseline="central" textLength="9.80" lengthAdjust="spacingAndGlyphs">16</text>
<text x="513.2" y="399.4" font-size="9.28" fill="#222" text-anchor="start" dominant-baseline="central" textLength="44.77" lengthAdjust="spacingAndGlyphs">Cell Cycle</text>
<rect x="394.6" y="406.43" width="101.3" height="10.4" fill="#b28acb"/>
<text x="377.3" y="411.6" font-size="7.85" fill="#444" text-anchor="end" dominant-baseline="central" textLength="9.80" lengthAdjust="spacingAndGlyphs">27</text>
<text x="496.2" y="411.6" font-size="9.28" fill="#222" text-anchor="start" dominant-baseline="central" textLength="175.33" lengthAdjust="spacingAndGlyphs">Apoptotic cleavage of cellular proteins</text>
<rect x="394.6" y="418.62" width="93.0" height="10.4" fill="#b28acb"/>
<text x="377.3" y="423.8" font-size="7.85" fill="#444" text-anchor="end" dominant-baseline="central" textLength="4.90" lengthAdjust="spacingAndGlyphs">8</text>
<text x="487.9" y="423.8" font-size="9.28" fill="#222" text-anchor="start" dominant-baseline="central" textLength="86.51" lengthAdjust="spacingAndGlyphs">Metabolism of RNA</text>
<rect x="394.6" y="430.81" width="93.0" height="10.4" fill="#b28acb"/>
<text x="377.3" y="436.0" font-size="7.85" fill="#444" text-anchor="end" dominant-baseline="central" textLength="9.80" lengthAdjust="spacingAndGlyphs">31</text>
<text x="487.9" y="436.0" font-size="9.28" fill="#222" text-anchor="start" dominant-baseline="central" textLength="74.37" lengthAdjust="spacingAndGlyphs">Immune System</text>
<rect x="394.6" y="443.00" width="84.2" height="10.4" fill="#d4d49a"/>
<text x="377.3" y="448.2" font-size="7.85" fill="#444" text-anchor="end" dominant-baseline="central" textLength="9.80" lengthAdjust="spacingAndGlyphs">93</text>
<text x="479.1" y="448.2" font-size="9.28" fill="#222" text-anchor="start" dominant-baseline="central" textLength="73.21" lengthAdjust="spacingAndGlyphs">Ephrin signaling</text>
<rect x="394.6" y="455.19" width="83.2" height="10.4" fill="#d4d49a"/>
<text x="377.3" y="460.4" font-size="7.85" fill="#444" text-anchor="end" dominant-baseline="central" textLength="14.70" lengthAdjust="spacingAndGlyphs">119</text>
<text x="478.1" y="460.4" font-size="9.28" fill="#222" text-anchor="start" dominant-baseline="central" textLength="131.56" lengthAdjust="spacingAndGlyphs">Metallothioneins bind metals</text>
<rect x="394.6" y="467.38" width="83.1" height="10.4" fill="#d4d49a"/>
<text x="377.3" y="472.6" font-size="7.85" fill="#444" text-anchor="end" dominant-baseline="central" textLength="9.80" lengthAdjust="spacingAndGlyphs">40</text>
<text x="478.0" y="472.6" font-size="9.28" fill="#222" text-anchor="start" dominant-baseline="central" textLength="113.88" lengthAdjust="spacingAndGlyphs">Neutrophil degranulation</text>
<rect x="394.6" y="479.57" width="75.1" height="10.4" fill="#b48fcc"/>
<text x="377.3" y="484.8" font-size="7.85" fill="#444" text-anchor="end" dominant-baseline="central" textLength="9.80" lengthAdjust="spacingAndGlyphs">34</text>
<text x="470.0" y="484.8" font-size="9.28" fill="#222" text-anchor="start" dominant-baseline="central" textLength="74.37" lengthAdjust="spacingAndGlyphs">Immune System</text>
<rect x="394.6" y="491.76" width="72.1" height="10.4" fill="#d2d29e"/>
<text x="377.3" y="497.0" font-size="7.85" fill="#444" text-anchor="end" dominant-baseline="central" textLength="9.80" lengthAdjust="spacingAndGlyphs">21</text>
<text x="467.0" y="497.0" font-size="9.28" fill="#222" text-anchor="start" dominant-baseline="central" textLength="131.08" lengthAdjust="spacingAndGlyphs">PI3K/AKT Signaling in Cancer</text>
<rect x="394.6" y="503.95" width="67.1" height="10.4" fill="#d0d0a0"/>
<text x="377.3" y="509.2" font-size="7.85" fill="#444" text-anchor="end" dominant-baseline="central" textLength="9.80" lengthAdjust="spacingAndGlyphs">19</text>
<text x="462.0" y="509.2" font-size="9.28" fill="#222" text-anchor="start" dominant-baseline="central" textLength="149.32" lengthAdjust="spacingAndGlyphs">Extracellular matrix organization</text>
<rect x="394.6" y="516.14" width="52.3" height="10.4" fill="#cacaa6"/>
<text x="377.3" y="521.3" font-size="7.85" fill="#444" text-anchor="end" dominant-baseline="central" textLength="4.90" lengthAdjust="spacingAndGlyphs">9</text>
<text x="447.2" y="521.3" font-size="9.28" fill="#222" text-anchor="start" dominant-baseline="central" textLength="141.41" lengthAdjust="spacingAndGlyphs">Immunoregulatory interactions</text>
<rect x="394.6" y="528.33" width="45.4" height="10.4" fill="#c8c8a8"/>
<text x="377.3" y="533.5" font-size="7.85" fill="#444" text-anchor="end" dominant-baseline="central" textLength="9.80" lengthAdjust="spacingAndGlyphs">74</text>
<text x="440.3" y="533.5" font-size="9.28" fill="#222" text-anchor="start" dominant-baseline="central" textLength="74.86" lengthAdjust="spacingAndGlyphs">tRNA processing</text>
<rect x="394.6" y="540.52" width="45.4" height="10.4" fill="#c8c8a8"/>
<text x="377.3" y="545.7" font-size="7.85" fill="#444" text-anchor="end" dominant-baseline="central" textLength="9.80" lengthAdjust="spacingAndGlyphs">72</text>
<text x="440.3" y="545.7" font-size="9.28" fill="#222" text-anchor="start" dominant-baseline="central" textLength="139.29" lengthAdjust="spacingAndGlyphs">Chromatin modifying enzymes</text>
<rect x="394.6" y="552.71" width="36.3" height="10.4" fill="#c6c6aa"/>
<text x="377.3" y="557.9" font-size="7.85" fill="#444" text-anchor="end" dominant-baseline="central" textLength="9.80" lengthAdjust="spacingAndGlyphs">15</text>
<text x="431.2" y="557.9" font-size="9.28" fill="#222" text-anchor="start" dominant-baseline="central" textLength="107.56" lengthAdjust="spacingAndGlyphs">Interleukin-10 signaling</text>
<rect x="394.6" y="564.90" width="34.4" height="10.4" fill="#bfaed0"/>
<text x="377.3" y="570.1" font-size="7.85" fill="#444" text-anchor="end" dominant-baseline="central" textLength="9.80" lengthAdjust="spacingAndGlyphs">51</text>
<text x="429.3" y="570.1" font-size="9.28" fill="#222" text-anchor="start" dominant-baseline="central" textLength="207.15" lengthAdjust="spacingAndGlyphs">Platelet activation, signaling and aggregation</text>
<rect x="394.6" y="577.09" width="32.1" height="10.4" fill="#c6c6aa"/>
<text x="377.3" y="582.3" font-size="7.85" fill="#444" text-anchor="end" dominant-baseline="central" textLength="9.80" lengthAdjust="spacingAndGlyphs">30</text>
<text x="427.0" y="582.3" font-size="9.28" fill="#222" text-anchor="start" dominant-baseline="central" textLength="144.10" lengthAdjust="spacingAndGlyphs">Cellular response to heat stress</text>
<rect x="381.2" y="588.5" width="303.8" height="2" fill="#000"/>
<text x="394.5" y="596.4" font-size="7.34" fill="#444" text-anchor="middle" dominant-baseline="central" textLength="4.58" lengthAdjust="spacingAndGlyphs">0</text>
<text x="465.0" y="596.4" font-size="7.34" fill="#444" text-anchor="middle" dominant-baseline="central" textLength="4.58" lengthAdjust="spacingAndGlyphs">3</text>
<text x="535.5" y="596.4" font-size="7.34" fill="#444" text-anchor="middle" dominant-baseline="central" textLength="4.58" lengthAdjust="spacingAndGlyphs">6</text>
<text x="606.0" y="596.4" font-size="7.34" fill="#444" text-anchor="middle" dominant-baseline="central" textLength="4.58" lengthAdjust="spacingAndGlyphs">9</text>
<text x="676.5" y="596.4" font-size="7.34" fill="#444" text-anchor="middle" dominant-baseline="central" textLength="9.16" lengthAdjust="spacingAndGlyphs">12</text>
<text x="531.7" y="605.8" font-size="9.22" fill="#222" text-anchor="middle" dominant-baseline="central" textLength="69.05" lengthAdjust="spacingAndGlyphs">-log10(p-value)</text>
<text x="357.0" y="454.0" font-size="9.13" fill="#222" text-anchor="middle" dominant-baseline="central" textLength="32.55" lengthAdjust="spacingAndGlyphs" transform="rotate(-90 357 454)">Module</text>
</svg>
</body></html>
